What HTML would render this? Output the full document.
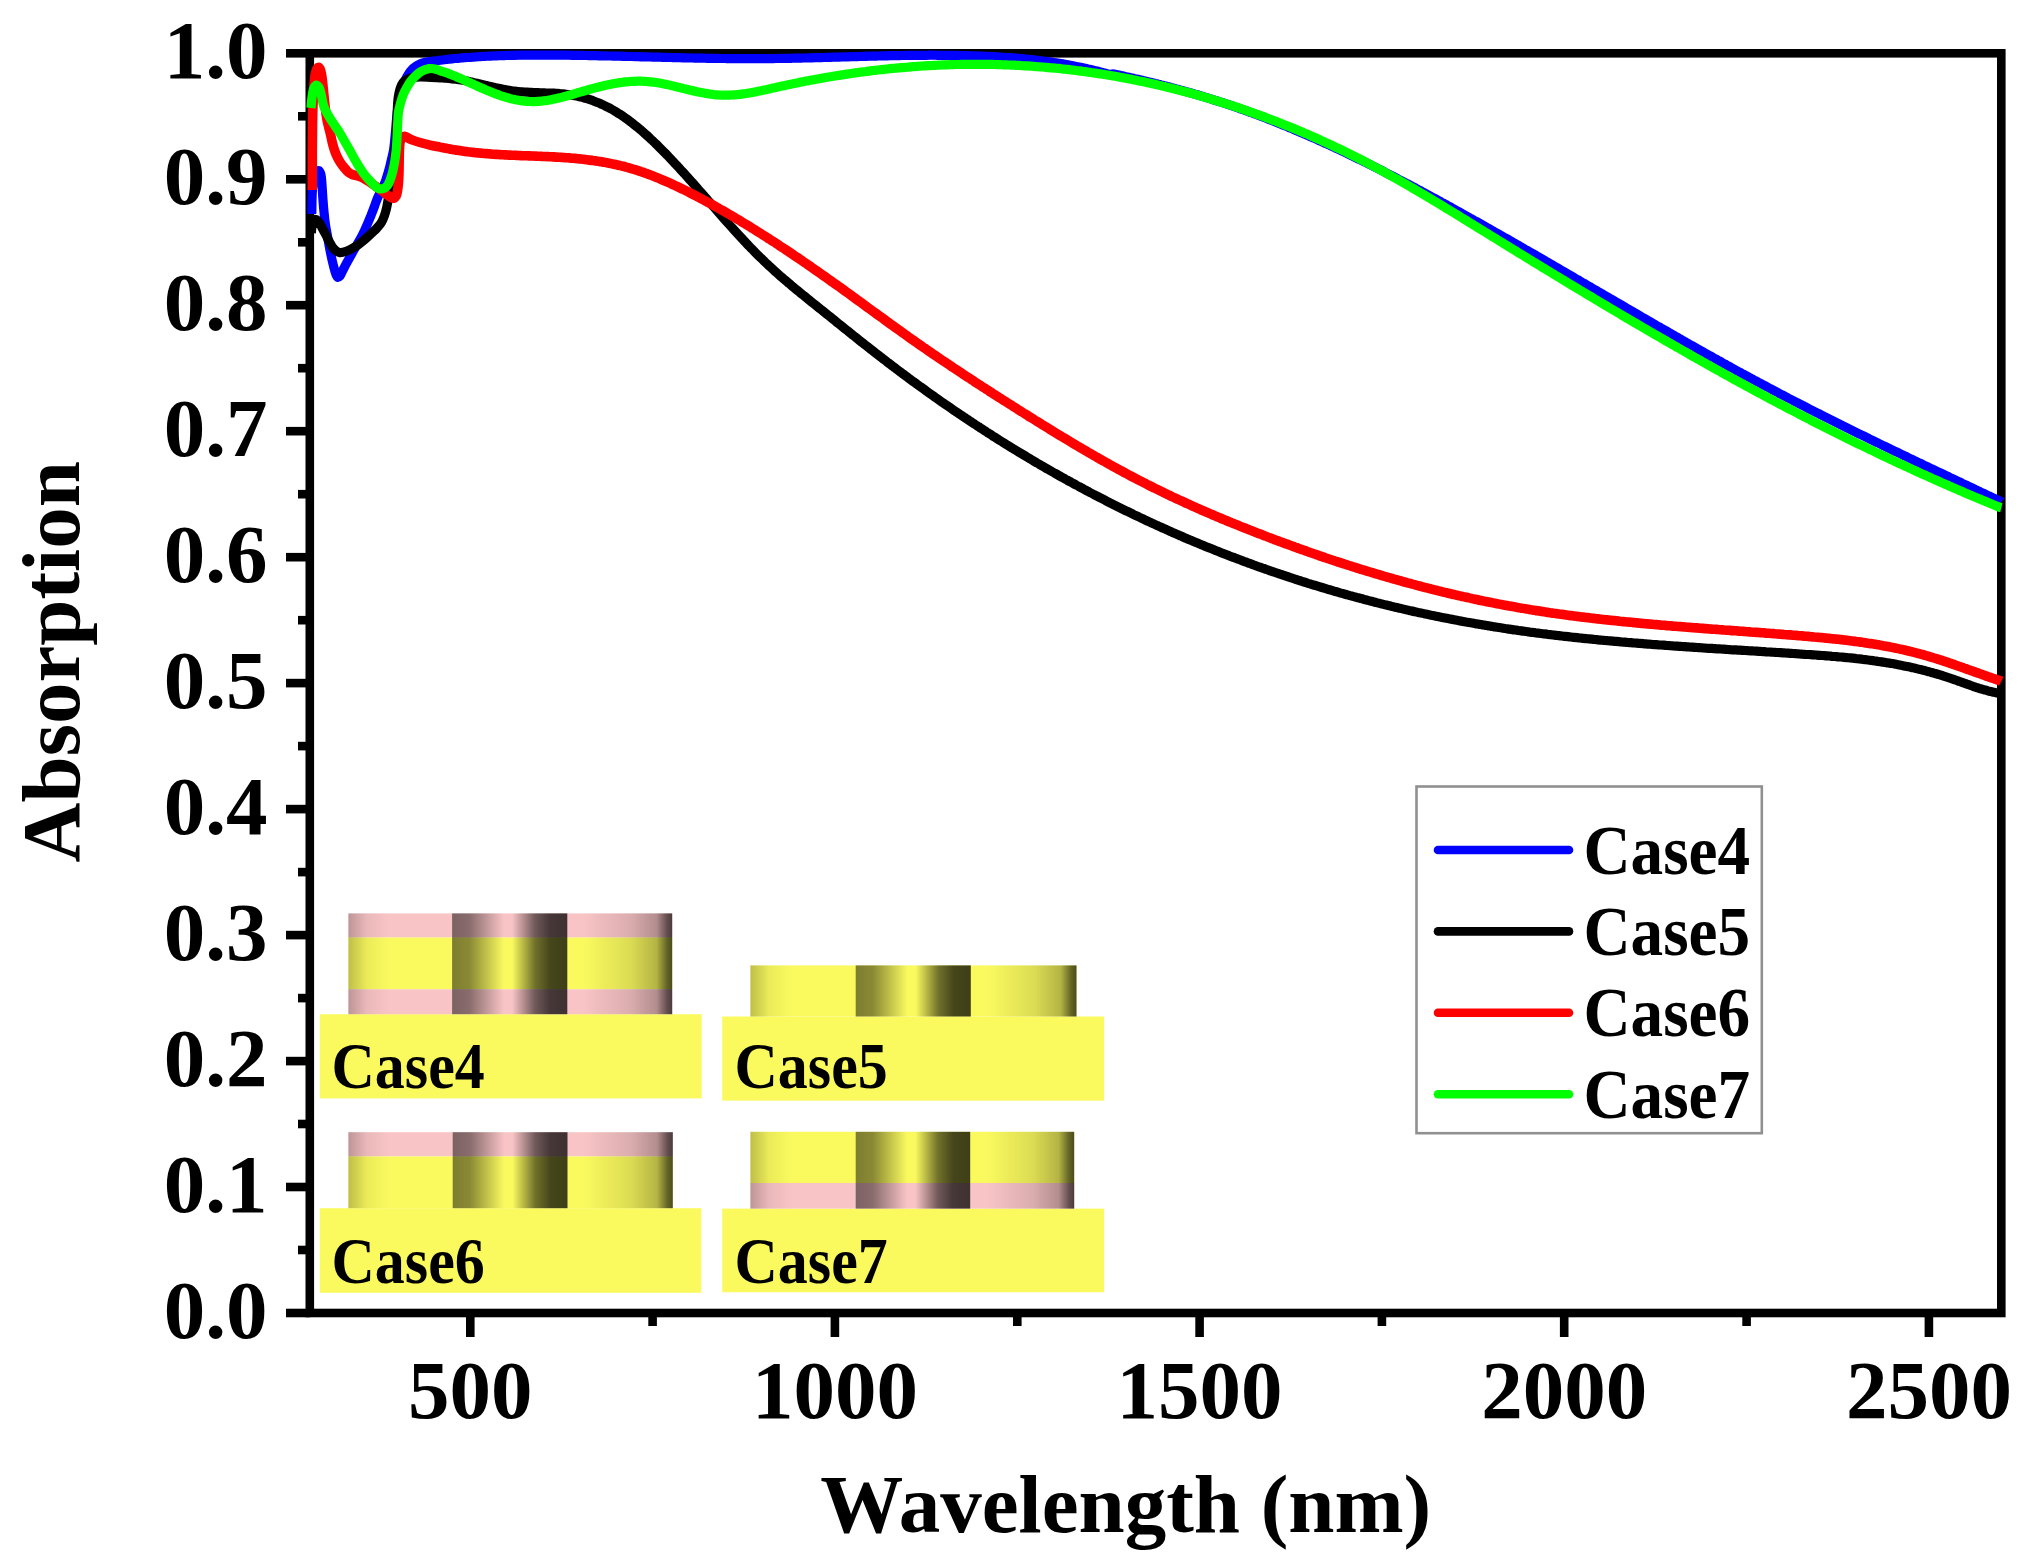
<!DOCTYPE html>
<html><head><meta charset="utf-8"><title>Absorption spectra</title>
<style>
html,body{margin:0;padding:0;background:#fff;}
body{width:2032px;height:1567px;overflow:hidden;}
svg{display:block;}
.t{font-family:"Liberation Serif","Times New Roman",serif;font-weight:bold;fill:#000;}
</style></head><body>
<svg width="2032" height="1567" viewBox="0 0 2032 1567">
<defs>
<linearGradient id="gl" x1="0" x2="1" y1="0" y2="0">
 <stop offset="0" stop-color="#000" stop-opacity="0.24"/>
 <stop offset="0.18" stop-color="#000" stop-opacity="0.06"/>
 <stop offset="0.4" stop-color="#000" stop-opacity="0"/>
 <stop offset="1" stop-color="#000" stop-opacity="0"/>
</linearGradient>
<linearGradient id="gm" x1="0" x2="1" y1="0" y2="0">
 <stop offset="0" stop-color="#000" stop-opacity="0.5"/>
 <stop offset="0.15" stop-color="#000" stop-opacity="0.45"/>
 <stop offset="0.45" stop-color="#000" stop-opacity="0"/>
 <stop offset="0.52" stop-color="#000" stop-opacity="0"/>
 <stop offset="0.72" stop-color="#000" stop-opacity="0.55"/>
 <stop offset="0.85" stop-color="#000" stop-opacity="0.72"/>
 <stop offset="1" stop-color="#000" stop-opacity="0.75"/>
</linearGradient>
<linearGradient id="gr" x1="0" x2="1" y1="0" y2="0">
 <stop offset="0" stop-color="#000" stop-opacity="0"/>
 <stop offset="0.15" stop-color="#000" stop-opacity="0"/>
 <stop offset="0.6" stop-color="#000" stop-opacity="0.12"/>
 <stop offset="0.85" stop-color="#000" stop-opacity="0.28"/>
 <stop offset="0.95" stop-color="#000" stop-opacity="0.6"/>
 <stop offset="1" stop-color="#000" stop-opacity="0.7"/>
</linearGradient>
</defs>
<rect width="2032" height="1567" fill="#fff"/>
<rect x="319.8" y="1014.2" width="381.9" height="84.2" fill="#FAFA5F"/>
<rect x="348.4" y="913.4" width="323.8" height="24.1" fill="#F9C4C6"/>
<rect x="348.4" y="937.5" width="323.8" height="51.8" fill="#FAFA5F"/>
<rect x="348.4" y="989.3" width="323.8" height="24.9" fill="#F9C4C6"/>
<rect x="348.4" y="913.4" width="103.7" height="100.8" fill="url(#gl)"/>
<rect x="452.1" y="913.4" width="115.2" height="100.8" fill="url(#gm)"/>
<rect x="567.3" y="913.4" width="104.9" height="100.8" fill="url(#gr)"/>
<text x="0" y="0" transform="translate(331.5,1088) scale(0.93,1)" font-size="64.5" class="t">Case4</text>
<rect x="722.2" y="1016.5" width="381.9" height="84.1" fill="#FAFA5F"/>
<rect x="750.4" y="965.4" width="326.1" height="51.1" fill="#FAFA5F"/>
<rect x="750.4" y="965.4" width="105.3" height="51.1" fill="url(#gl)"/>
<rect x="855.7" y="965.4" width="115.1" height="51.1" fill="url(#gm)"/>
<rect x="970.8" y="965.4" width="105.7" height="51.1" fill="url(#gr)"/>
<text x="0" y="0" transform="translate(734.5,1088) scale(0.93,1)" font-size="64.5" class="t">Case5</text>
<rect x="319.8" y="1208.2" width="381.5" height="84.6" fill="#FAFA5F"/>
<rect x="348.4" y="1132.2" width="324.4" height="24.2" fill="#F9C4C6"/>
<rect x="348.4" y="1156.4" width="324.4" height="51.8" fill="#FAFA5F"/>
<rect x="348.4" y="1132.2" width="104.3" height="76.0" fill="url(#gl)"/>
<rect x="452.7" y="1132.2" width="114.8" height="76.0" fill="url(#gm)"/>
<rect x="567.5" y="1132.2" width="105.3" height="76.0" fill="url(#gr)"/>
<text x="0" y="0" transform="translate(331.5,1282.5) scale(0.93,1)" font-size="64.5" class="t">Case6</text>
<rect x="722.2" y="1208.6" width="381.9" height="83.6" fill="#FAFA5F"/>
<rect x="750.4" y="1131.8" width="323.8" height="51.2" fill="#FAFA5F"/>
<rect x="750.4" y="1183" width="323.8" height="25.6" fill="#F9C4C6"/>
<rect x="750.4" y="1131.8" width="105.3" height="76.8" fill="url(#gl)"/>
<rect x="855.7" y="1131.8" width="114.5" height="76.8" fill="url(#gm)"/>
<rect x="970.2" y="1131.8" width="104.0" height="76.8" fill="url(#gr)"/>
<text x="0" y="0" transform="translate(734.5,1282.5) scale(0.93,1)" font-size="64.5" class="t">Case7</text>
<rect x="309.8" y="53.3" width="1691.5" height="1259.7" fill="none" stroke="#000" stroke-width="8.6" stroke-linejoin="miter"/>
<line x1="286" y1="1313.0" x2="309.8" y2="1313.0" stroke="#000" stroke-width="8.6"/>
<line x1="298" y1="1250.0" x2="309.8" y2="1250.0" stroke="#000" stroke-width="8.6"/>
<text x="267.6" y="1337.5" text-anchor="end" font-size="83" class="t">0.0</text>
<line x1="286" y1="1187.0" x2="309.8" y2="1187.0" stroke="#000" stroke-width="8.6"/>
<line x1="298" y1="1124.0" x2="309.8" y2="1124.0" stroke="#000" stroke-width="8.6"/>
<text x="267.6" y="1211.5" text-anchor="end" font-size="83" class="t">0.1</text>
<line x1="286" y1="1061.1" x2="309.8" y2="1061.1" stroke="#000" stroke-width="8.6"/>
<line x1="298" y1="998.1" x2="309.8" y2="998.1" stroke="#000" stroke-width="8.6"/>
<text x="267.6" y="1085.6" text-anchor="end" font-size="83" class="t">0.2</text>
<line x1="286" y1="935.1" x2="309.8" y2="935.1" stroke="#000" stroke-width="8.6"/>
<line x1="298" y1="872.1" x2="309.8" y2="872.1" stroke="#000" stroke-width="8.6"/>
<text x="267.6" y="959.6" text-anchor="end" font-size="83" class="t">0.3</text>
<line x1="286" y1="809.1" x2="309.8" y2="809.1" stroke="#000" stroke-width="8.6"/>
<line x1="298" y1="746.1" x2="309.8" y2="746.1" stroke="#000" stroke-width="8.6"/>
<text x="267.6" y="833.6" text-anchor="end" font-size="83" class="t">0.4</text>
<line x1="286" y1="683.1" x2="309.8" y2="683.1" stroke="#000" stroke-width="8.6"/>
<line x1="298" y1="620.2" x2="309.8" y2="620.2" stroke="#000" stroke-width="8.6"/>
<text x="267.6" y="707.6" text-anchor="end" font-size="83" class="t">0.5</text>
<line x1="286" y1="557.2" x2="309.8" y2="557.2" stroke="#000" stroke-width="8.6"/>
<line x1="298" y1="494.2" x2="309.8" y2="494.2" stroke="#000" stroke-width="8.6"/>
<text x="267.6" y="581.7" text-anchor="end" font-size="83" class="t">0.6</text>
<line x1="286" y1="431.2" x2="309.8" y2="431.2" stroke="#000" stroke-width="8.6"/>
<line x1="298" y1="368.2" x2="309.8" y2="368.2" stroke="#000" stroke-width="8.6"/>
<text x="267.6" y="455.7" text-anchor="end" font-size="83" class="t">0.7</text>
<line x1="286" y1="305.2" x2="309.8" y2="305.2" stroke="#000" stroke-width="8.6"/>
<line x1="298" y1="242.3" x2="309.8" y2="242.3" stroke="#000" stroke-width="8.6"/>
<text x="267.6" y="329.7" text-anchor="end" font-size="83" class="t">0.8</text>
<line x1="286" y1="179.3" x2="309.8" y2="179.3" stroke="#000" stroke-width="8.6"/>
<line x1="298" y1="116.3" x2="309.8" y2="116.3" stroke="#000" stroke-width="8.6"/>
<text x="267.6" y="203.8" text-anchor="end" font-size="83" class="t">0.9</text>
<line x1="286" y1="53.3" x2="309.8" y2="53.3" stroke="#000" stroke-width="8.6"/>
<text x="267.6" y="77.8" text-anchor="end" font-size="83" class="t">1.0</text>
<line x1="470.3" y1="1313.0" x2="470.3" y2="1337" stroke="#000" stroke-width="8.6"/>
<text x="470.3" y="1418.2" text-anchor="middle" font-size="83" class="t">500</text>
<line x1="834.9" y1="1313.0" x2="834.9" y2="1337" stroke="#000" stroke-width="8.6"/>
<text x="834.9" y="1418.2" text-anchor="middle" font-size="83" class="t">1000</text>
<line x1="1199.6" y1="1313.0" x2="1199.6" y2="1337" stroke="#000" stroke-width="8.6"/>
<text x="1199.6" y="1418.2" text-anchor="middle" font-size="83" class="t">1500</text>
<line x1="1564.2" y1="1313.0" x2="1564.2" y2="1337" stroke="#000" stroke-width="8.6"/>
<text x="1564.2" y="1418.2" text-anchor="middle" font-size="83" class="t">2000</text>
<line x1="1928.9" y1="1313.0" x2="1928.9" y2="1337" stroke="#000" stroke-width="8.6"/>
<text x="1928.9" y="1418.2" text-anchor="middle" font-size="83" class="t">2500</text>
<line x1="652.6" y1="1313.0" x2="652.6" y2="1326" stroke="#000" stroke-width="8.6"/>
<line x1="1017.3" y1="1313.0" x2="1017.3" y2="1326" stroke="#000" stroke-width="8.6"/>
<line x1="1381.9" y1="1313.0" x2="1381.9" y2="1326" stroke="#000" stroke-width="8.6"/>
<line x1="1746.6" y1="1313.0" x2="1746.6" y2="1326" stroke="#000" stroke-width="8.6"/>
<path d="M311.8,214.0 C311.9,209.3 311.9,204.5 312.0,200.0 C312.1,195.8 312.2,191.9 312.6,188.0 C313.0,184.2 313.4,180.0 314.2,177.0 C314.8,174.8 315.5,172.5 316.5,171.5 C317.2,170.9 318.1,170.4 318.8,170.6 C319.6,170.9 320.3,172.5 320.8,174.0 C321.6,176.6 321.7,181.0 322.0,185.0 C322.4,189.6 322.6,195.3 323.0,200.0 C323.3,204.2 323.6,207.9 324.0,212.0 C324.4,216.2 324.9,220.9 325.5,225.0 C326.0,228.7 326.8,232.1 327.4,235.6 C328.0,239.1 328.6,242.6 329.2,246.0 C329.8,249.4 330.5,252.7 331.2,256.1 C332.0,259.7 332.9,263.7 333.8,267.0 C334.5,269.7 335.1,272.6 336.0,274.5 C336.6,275.8 337.2,277.4 337.9,277.5 C338.5,277.6 339.3,276.8 340.0,276.0 C341.1,274.7 341.9,272.1 343.0,270.0 C344.3,267.5 345.8,264.7 347.2,262.0 C348.7,259.3 350.2,256.7 351.7,254.0 C353.3,251.1 355.1,248.0 356.8,245.0 C358.6,241.9 360.4,238.9 362.1,235.6 C363.8,232.2 365.5,228.5 367.0,225.0 C368.5,221.7 369.8,218.4 371.1,215.2 C372.3,212.1 373.4,209.1 374.6,206.0 C375.7,203.0 376.7,199.9 378.0,197.0 C379.2,194.2 380.7,191.7 382.0,189.0 C383.2,186.4 384.5,183.8 385.5,181.1 C386.5,178.4 387.2,175.6 388.0,173.0 C388.7,170.5 389.4,168.3 390.0,165.8 C390.6,163.3 391.2,160.6 391.8,158.0 C392.4,155.5 393.0,153.4 393.5,150.4 C394.2,146.2 394.7,140.5 395.2,135.0 C395.8,128.8 396.2,121.4 397.0,115.0 C397.7,109.1 398.4,103.1 399.5,98.0 C400.5,93.6 401.7,89.7 403.0,86.0 C404.2,82.6 405.3,79.4 407.0,76.5 C408.7,73.6 410.7,70.6 413.0,68.5 C415.1,66.6 417.5,65.1 420.0,64.0 C422.5,62.9 425.3,62.4 428.0,61.8 C430.7,61.3 433.3,61.1 436.2,60.7 C439.4,60.3 444.1,59.8 446.4,59.5 C447.6,59.4 448.1,59.2 449.0,59.1 C450.0,59.0 451.0,58.9 452.0,58.8 C453.0,58.7 454.0,58.6 455.0,58.5 C456.0,58.4 457.0,58.3 458.0,58.3 C459.0,58.2 460.0,58.1 461.0,58.0 C462.0,57.9 463.0,57.8 464.0,57.7 C465.0,57.7 466.0,57.6 467.0,57.5 C468.0,57.4 469.0,57.3 470.0,57.3 C471.0,57.2 472.0,57.1 473.0,57.1 C474.0,57.0 475.0,56.9 476.0,56.9 C477.0,56.8 478.0,56.7 479.0,56.7 C480.0,56.6 481.0,56.6 482.0,56.5 C483.0,56.5 484.0,56.4 485.0,56.3 C486.0,56.3 487.0,56.2 488.0,56.2 C489.0,56.1 490.0,56.1 491.0,56.1 C492.0,56.0 493.0,56.0 494.0,55.9 C495.0,55.9 496.0,55.8 497.0,55.8 C498.0,55.8 499.0,55.7 500.0,55.7 C501.0,55.7 502.0,55.6 503.0,55.6 C504.0,55.6 505.0,55.5 506.0,55.5 C507.0,55.5 508.0,55.5 509.0,55.4 C510.0,55.4 511.0,55.4 512.0,55.4 C513.0,55.3 514.0,55.3 515.0,55.3 C516.0,55.3 517.0,55.3 518.0,55.2 C519.0,55.2 520.0,55.2 521.0,55.2 C522.0,55.2 523.0,55.2 524.0,55.2 C525.0,55.1 526.0,55.1 527.0,55.1 C528.0,55.1 529.0,55.1 530.0,55.1 C531.0,55.1 532.0,55.1 533.0,55.1 C534.0,55.1 535.0,55.1 536.0,55.1 C537.0,55.1 538.0,55.1 539.0,55.1 C540.0,55.1 541.0,55.1 542.0,55.1 C543.0,55.1 544.0,55.1 545.0,55.1 C546.0,55.1 547.0,55.1 548.0,55.1 C549.0,55.1 550.0,55.1 551.0,55.1 C552.0,55.1 553.0,55.1 554.0,55.1 C555.0,55.1 556.0,55.1 557.0,55.1 C558.0,55.1 559.0,55.1 560.0,55.1 C561.0,55.2 562.0,55.2 563.0,55.2 C564.0,55.2 565.0,55.2 566.0,55.2 C567.0,55.2 568.0,55.2 569.0,55.2 C570.0,55.3 571.0,55.3 572.0,55.3 C573.0,55.3 574.0,55.3 575.0,55.3 C576.0,55.3 577.0,55.4 578.0,55.4 C579.0,55.4 580.0,55.4 581.0,55.4 C582.0,55.4 583.0,55.5 584.0,55.5 C585.0,55.5 586.0,55.5 587.0,55.5 C588.0,55.5 589.0,55.6 590.0,55.6 C591.0,55.6 592.0,55.6 593.0,55.6 C594.0,55.7 595.0,55.7 596.0,55.7 C597.0,55.7 598.0,55.7 599.0,55.8 C600.0,55.8 601.0,55.8 602.0,55.8 C603.0,55.8 604.0,55.9 605.0,55.9 C606.0,55.9 607.0,55.9 608.0,56.0 C609.0,56.0 610.0,56.0 611.0,56.0 C612.0,56.0 613.0,56.1 614.0,56.1 C615.0,56.1 616.0,56.1 617.0,56.2 C618.0,56.2 619.0,56.2 620.0,56.2 C621.0,56.3 622.0,56.3 623.0,56.3 C624.0,56.3 625.0,56.4 626.0,56.4 C627.0,56.4 628.0,56.4 629.0,56.5 C630.0,56.5 631.0,56.5 632.0,56.5 C633.0,56.6 634.0,56.6 635.0,56.6 C636.0,56.6 637.0,56.7 638.0,56.7 C639.0,56.7 640.0,56.7 641.0,56.8 C642.0,56.8 643.0,56.8 644.0,56.8 C645.0,56.9 646.0,56.9 647.0,56.9 C648.0,56.9 649.0,57.0 650.0,57.0 C651.0,57.0 652.0,57.0 653.0,57.1 C654.0,57.1 655.0,57.1 656.0,57.1 C657.0,57.2 658.0,57.2 659.0,57.2 C660.0,57.2 661.0,57.3 662.0,57.3 C663.0,57.3 664.0,57.3 665.0,57.4 C666.0,57.4 667.0,57.4 668.0,57.4 C669.0,57.5 670.0,57.5 671.0,57.5 C672.0,57.5 673.0,57.6 674.0,57.6 C675.0,57.6 676.0,57.6 677.0,57.7 C678.0,57.7 679.0,57.7 680.0,57.7 C681.0,57.8 682.0,57.8 683.0,57.8 C684.0,57.8 685.0,57.8 686.0,57.9 C687.0,57.9 688.0,57.9 689.0,57.9 C690.0,58.0 691.0,58.0 692.0,58.0 C693.0,58.0 694.0,58.0 695.0,58.1 C696.0,58.1 697.0,58.1 698.0,58.1 C699.0,58.1 700.0,58.2 701.0,58.2 C702.0,58.2 703.0,58.2 704.0,58.2 C705.0,58.2 706.0,58.3 707.0,58.3 C708.0,58.3 709.0,58.3 710.0,58.3 C711.0,58.3 712.0,58.4 713.0,58.4 C714.0,58.4 715.0,58.4 716.0,58.4 C717.0,58.4 718.0,58.4 719.0,58.5 C720.0,58.5 721.0,58.5 722.0,58.5 C723.0,58.5 724.0,58.5 725.0,58.5 C726.0,58.5 727.0,58.6 728.0,58.6 C729.0,58.6 730.0,58.6 731.0,58.6 C732.0,58.6 733.0,58.6 734.0,58.6 C735.0,58.6 736.0,58.6 737.0,58.6 C738.0,58.6 739.0,58.6 740.0,58.7 C741.0,58.7 742.0,58.7 743.0,58.7 C744.0,58.7 745.0,58.7 746.0,58.7 C747.0,58.7 748.0,58.7 749.0,58.7 C750.0,58.7 751.0,58.7 752.0,58.7 C753.0,58.7 754.0,58.7 755.0,58.7 C756.0,58.7 757.0,58.7 758.0,58.7 C759.0,58.7 760.0,58.7 761.0,58.7 C762.0,58.6 763.0,58.6 764.0,58.6 C765.0,58.6 766.0,58.6 767.0,58.6 C768.0,58.6 769.0,58.6 770.0,58.6 C771.0,58.6 772.0,58.6 773.0,58.6 C774.0,58.5 775.0,58.5 776.0,58.5 C777.0,58.5 778.0,58.5 779.0,58.5 C780.0,58.5 781.0,58.4 782.0,58.4 C783.0,58.4 784.0,58.4 785.0,58.4 C786.0,58.4 787.0,58.3 788.0,58.3 C789.0,58.3 790.0,58.3 791.0,58.3 C792.0,58.3 793.0,58.2 794.0,58.2 C795.0,58.2 796.0,58.2 797.0,58.2 C798.0,58.1 799.0,58.1 800.0,58.1 C801.0,58.1 802.0,58.0 803.0,58.0 C804.0,58.0 805.0,58.0 806.0,58.0 C807.0,57.9 808.0,57.9 809.0,57.9 C810.0,57.9 811.0,57.8 812.0,57.8 C813.0,57.8 814.0,57.8 815.0,57.7 C816.0,57.7 817.0,57.7 818.0,57.7 C819.0,57.6 820.0,57.6 821.0,57.6 C822.0,57.5 823.0,57.5 824.0,57.5 C825.0,57.5 826.0,57.4 827.0,57.4 C828.0,57.4 829.0,57.4 830.0,57.3 C831.0,57.3 832.0,57.3 833.0,57.2 C834.0,57.2 835.0,57.2 836.0,57.2 C837.0,57.1 838.0,57.1 839.0,57.1 C840.0,57.0 841.0,57.0 842.0,57.0 C843.0,57.0 844.0,56.9 845.0,56.9 C846.0,56.9 847.0,56.8 848.0,56.8 C849.0,56.8 850.0,56.8 851.0,56.7 C852.0,56.7 853.0,56.7 854.0,56.6 C855.0,56.6 856.0,56.6 857.0,56.6 C858.0,56.5 859.0,56.5 860.0,56.5 C861.0,56.5 862.0,56.4 863.0,56.4 C864.0,56.4 865.0,56.3 866.0,56.3 C867.0,56.3 868.0,56.3 869.0,56.2 C870.0,56.2 871.0,56.2 872.0,56.2 C873.0,56.1 874.0,56.1 875.0,56.1 C876.0,56.1 877.0,56.0 878.0,56.0 C879.0,56.0 880.0,56.0 881.0,55.9 C882.0,55.9 883.0,55.9 884.0,55.9 C885.0,55.8 886.0,55.8 887.0,55.8 C888.0,55.8 889.0,55.8 890.0,55.7 C891.0,55.7 892.0,55.7 893.0,55.7 C894.0,55.7 895.0,55.6 896.0,55.6 C897.0,55.6 898.0,55.6 899.0,55.6 C900.0,55.5 901.0,55.5 902.0,55.5 C903.0,55.5 904.0,55.5 905.0,55.5 C906.0,55.5 907.0,55.4 908.0,55.4 C909.0,55.4 910.0,55.4 911.0,55.4 C912.0,55.4 913.0,55.4 914.0,55.4 C915.0,55.3 916.0,55.3 917.0,55.3 C918.0,55.3 919.0,55.3 920.0,55.3 C921.0,55.3 922.0,55.3 923.0,55.3 C924.0,55.3 925.0,55.3 926.0,55.3 C927.0,55.3 928.0,55.3 929.0,55.2 C930.0,55.2 931.0,55.2 932.0,55.2 C933.0,55.2 934.0,55.2 935.0,55.2 C936.0,55.2 937.0,55.2 938.0,55.3 C939.0,55.3 940.0,55.3 941.0,55.3 C942.0,55.3 943.0,55.3 944.0,55.3 C945.0,55.3 946.0,55.3 947.0,55.3 C948.0,55.3 949.0,55.3 950.0,55.3 C951.0,55.4 952.0,55.4 953.0,55.4 C954.0,55.4 955.0,55.4 956.0,55.4 C957.0,55.4 958.0,55.5 959.0,55.5 C960.0,55.5 961.0,55.5 962.0,55.5 C963.0,55.6 964.0,55.6 965.0,55.6 C966.0,55.6 967.0,55.7 968.0,55.7 C969.0,55.7 970.0,55.7 971.0,55.8 C972.0,55.8 973.0,55.8 974.0,55.9 C975.0,55.9 976.0,55.9 977.0,55.9 C978.0,56.0 979.0,56.0 980.0,56.1 C981.0,56.1 982.0,56.1 983.0,56.2 C984.0,56.2 985.0,56.3 986.0,56.3 C987.0,56.3 988.0,56.4 989.0,56.4 C990.0,56.5 991.0,56.5 992.0,56.6 C993.0,56.6 994.0,56.7 995.0,56.7 C996.0,56.8 997.0,56.9 998.0,56.9 C999.0,57.0 1000.0,57.0 1001.0,57.1 C1002.0,57.2 1003.0,57.2 1004.0,57.3 C1005.0,57.3 1006.0,57.4 1007.0,57.5 C1008.0,57.6 1009.0,57.6 1010.0,57.7 C1011.0,57.8 1012.0,57.9 1013.0,57.9 C1014.0,58.0 1015.0,58.1 1016.0,58.2 C1017.0,58.3 1018.0,58.3 1019.0,58.4 C1020.0,58.5 1021.0,58.6 1022.0,58.7 C1023.0,58.8 1024.0,58.9 1025.0,59.0 C1026.0,59.1 1027.0,59.2 1028.0,59.3 C1029.0,59.4 1030.0,59.5 1031.0,59.6 C1032.0,59.7 1033.0,59.8 1034.0,59.9 C1035.0,60.0 1036.0,60.2 1037.0,60.3 C1038.0,60.4 1039.0,60.5 1040.0,60.6 C1041.0,60.8 1042.0,60.9 1043.0,61.0 C1044.0,61.1 1045.0,61.3 1046.0,61.4 C1047.0,61.5 1048.0,61.7 1049.0,61.8 C1050.0,62.0 1051.0,62.1 1052.0,62.2 C1053.0,62.4 1054.0,62.5 1055.0,62.7 C1056.0,62.8 1057.0,63.0 1058.0,63.2 C1059.0,63.3 1060.0,63.5 1061.0,63.6 C1062.0,63.8 1063.0,64.0 1064.0,64.1 C1065.0,64.3 1066.0,64.5 1067.0,64.7 C1068.0,64.8 1069.0,65.0 1070.0,65.2 C1071.0,65.4 1072.0,65.6 1073.0,65.8 C1074.0,66.0 1075.0,66.2 1076.0,66.4 C1077.0,66.6 1078.0,66.8 1079.0,67.0 C1080.0,67.2 1081.0,67.4 1082.0,67.6 C1083.0,67.8 1084.0,68.0 1085.0,68.2 C1086.0,68.5 1087.0,68.7 1088.0,68.9 C1089.0,69.1 1090.0,69.4 1091.0,69.6 C1092.0,69.8 1093.0,70.1 1094.0,70.3 C1095.0,70.6 1096.0,70.8 1097.0,71.0 C1098.0,71.3 1099.0,71.6 1100.0,71.8 C1101.0,72.1 1102.0,72.3 1103.0,72.6 C1104.0,72.9 1105.0,73.1 1106.0,73.4 C1107.0,73.7 1108.3,74.0 1109.0,74.2 C1109.4,74.4 1109.6,74.5 1110.0,74.5 C1110.7,74.5 1112.0,73.9 1113.0,73.9 C1114.0,73.9 1115.0,74.3 1116.0,74.5 C1117.0,74.7 1118.0,74.9 1119.0,75.1 C1120.0,75.3 1121.0,75.5 1122.0,75.7 C1123.0,76.0 1124.0,76.2 1125.0,76.4 C1126.0,76.6 1127.0,76.8 1128.0,77.1 C1129.0,77.3 1130.0,77.5 1131.0,77.7 C1132.0,77.9 1133.0,78.2 1134.0,78.4 C1135.0,78.6 1136.0,78.8 1137.0,79.1 C1138.0,79.3 1139.0,79.5 1140.0,79.8 C1141.0,80.0 1142.0,80.2 1143.0,80.5 C1144.0,80.7 1145.0,80.9 1146.0,81.2 C1147.0,81.4 1148.0,81.6 1149.0,81.9 C1150.0,82.1 1151.0,82.4 1152.0,82.6 C1153.0,82.9 1154.0,83.1 1155.0,83.4 C1156.0,83.6 1157.0,83.9 1158.0,84.1 C1159.0,84.4 1160.0,84.6 1161.0,84.9 C1162.0,85.1 1163.0,85.4 1164.0,85.6 C1165.0,85.9 1166.0,86.1 1167.0,86.4 C1168.0,86.7 1169.0,86.9 1170.0,87.2 C1171.0,87.5 1172.0,87.7 1173.0,88.0 C1174.0,88.3 1175.0,88.5 1176.0,88.8 C1177.0,89.1 1178.0,89.3 1179.0,89.6 C1180.0,89.9 1181.0,90.2 1182.0,90.4 C1183.0,90.7 1184.0,91.0 1185.0,91.3 C1186.0,91.6 1187.0,91.9 1188.0,92.1 C1189.0,92.4 1190.0,92.7 1191.0,93.0 C1192.0,93.3 1193.0,93.6 1194.0,93.9 C1195.0,94.2 1196.0,94.5 1197.0,94.8 C1198.0,95.0 1199.0,95.3 1200.0,95.6 C1201.0,95.9 1202.0,96.2 1203.0,96.5 C1204.0,96.9 1205.0,97.2 1206.0,97.5 C1207.0,97.8 1208.0,98.1 1209.0,98.4 C1210.0,98.7 1211.0,99.0 1212.0,99.3 C1213.0,99.6 1214.0,100.0 1215.0,100.3 C1216.0,100.6 1217.0,100.9 1218.0,101.2 C1219.0,101.6 1220.0,101.9 1221.0,102.2 C1222.0,102.5 1223.0,102.9 1224.0,103.2 C1225.0,103.5 1226.0,103.9 1227.0,104.2 C1228.0,104.5 1229.0,104.9 1230.0,105.2 C1231.0,105.5 1232.0,105.9 1233.0,106.2 C1234.0,106.6 1235.0,106.9 1236.0,107.2 C1237.0,107.6 1238.0,107.9 1239.0,108.3 C1240.0,108.6 1241.0,109.0 1242.0,109.3 C1243.0,109.7 1244.0,110.1 1245.0,110.4 C1246.0,110.8 1247.0,111.1 1248.0,111.5 C1249.0,111.9 1250.0,112.2 1251.0,112.6 C1252.0,113.0 1253.0,113.3 1254.0,113.7 C1255.0,114.1 1256.0,114.4 1257.0,114.8 C1258.0,115.2 1259.0,115.6 1260.0,115.9 C1261.0,116.3 1262.0,116.7 1263.0,117.1 C1264.0,117.5 1265.0,117.9 1266.0,118.2 C1267.0,118.6 1268.0,119.0 1269.0,119.4 C1270.0,119.8 1271.0,120.2 1272.0,120.6 C1273.0,121.0 1274.0,121.4 1275.0,121.8 C1276.0,122.2 1277.0,122.6 1278.0,123.0 C1279.0,123.4 1280.0,123.8 1281.0,124.2 C1282.0,124.6 1283.0,125.0 1284.0,125.4 C1285.0,125.8 1286.0,126.2 1287.0,126.6 C1288.0,127.0 1289.0,127.5 1290.0,127.9 C1291.0,128.3 1292.0,128.7 1293.0,129.1 C1294.0,129.6 1295.0,130.0 1296.0,130.4 C1297.0,130.8 1298.0,131.3 1299.0,131.7 C1300.0,132.1 1301.0,132.5 1302.0,133.0 C1303.0,133.4 1304.0,133.8 1305.0,134.3 C1306.0,134.7 1307.0,135.1 1308.0,135.6 C1309.0,136.0 1310.0,136.5 1311.0,136.9 C1312.0,137.3 1313.0,137.8 1314.0,138.2 C1315.0,138.7 1316.0,139.1 1317.0,139.6 C1318.0,140.0 1319.0,140.5 1320.0,140.9 C1321.0,141.4 1322.0,141.8 1323.0,142.3 C1324.0,142.7 1325.0,143.2 1326.0,143.6 C1327.0,144.1 1328.0,144.5 1329.0,145.0 C1330.0,145.5 1331.0,145.9 1332.0,146.4 C1333.0,146.9 1334.0,147.3 1335.0,147.8 C1336.0,148.3 1337.0,148.7 1338.0,149.2 C1339.0,149.7 1340.0,150.1 1341.0,150.6 C1342.0,151.1 1343.0,151.5 1344.0,152.0 C1345.0,152.5 1346.0,153.0 1347.0,153.5 C1348.0,153.9 1349.0,154.4 1350.0,154.9 C1351.0,155.4 1352.0,155.9 1353.0,156.3 C1354.0,156.8 1355.0,157.3 1356.0,157.8 C1357.0,158.3 1358.0,158.8 1359.0,159.3 C1360.0,159.7 1361.0,160.2 1362.0,160.7 C1363.0,161.2 1364.0,161.7 1365.0,162.2 C1366.0,162.7 1367.0,163.2 1368.0,163.7 C1369.0,164.2 1370.0,164.7 1371.0,165.2 C1372.0,165.7 1373.0,166.2 1374.0,166.7 C1375.0,167.2 1376.0,167.7 1377.0,168.2 C1378.0,168.7 1379.0,169.2 1380.0,169.7 C1381.0,170.2 1382.0,170.7 1383.0,171.2 C1384.0,171.7 1385.0,172.3 1386.0,172.8 C1387.0,173.3 1388.0,173.8 1389.0,174.3 C1390.0,174.8 1391.0,175.3 1392.0,175.8 C1393.0,176.4 1394.0,176.9 1395.0,177.4 C1396.0,177.9 1397.0,178.4 1398.0,179.0 C1399.0,179.5 1400.0,180.0 1401.0,180.5 C1402.0,181.0 1403.0,181.6 1404.0,182.1 C1405.0,182.6 1406.0,183.1 1407.0,183.7 C1408.0,184.2 1409.0,184.7 1410.0,185.2 C1411.0,185.8 1412.0,186.3 1413.0,186.8 C1414.0,187.4 1415.0,187.9 1416.0,188.4 C1417.0,189.0 1418.0,189.5 1419.0,190.0 C1420.0,190.6 1421.0,191.1 1422.0,191.6 C1423.0,192.2 1424.0,192.7 1425.0,193.2 C1426.0,193.8 1427.0,194.3 1428.0,194.9 C1429.0,195.4 1430.0,195.9 1431.0,196.5 C1432.0,197.0 1433.0,197.6 1434.0,198.1 C1435.0,198.6 1436.0,199.2 1437.0,199.7 C1438.0,200.3 1439.0,200.8 1440.0,201.4 C1441.0,201.9 1442.0,202.5 1443.0,203.0 C1444.0,203.6 1445.0,204.1 1446.0,204.7 C1447.0,205.2 1448.0,205.8 1449.0,206.3 C1450.0,206.9 1451.0,207.4 1452.0,208.0 C1453.0,208.5 1454.0,209.1 1455.0,209.6 C1456.0,210.2 1457.0,210.7 1458.0,211.3 C1459.0,211.8 1460.0,212.4 1461.0,212.9 C1462.0,213.5 1463.0,214.1 1464.0,214.6 C1465.0,215.2 1466.0,215.7 1467.0,216.3 C1468.0,216.8 1469.0,217.4 1470.0,218.0 C1471.0,218.5 1472.0,219.1 1473.0,219.6 C1474.0,220.2 1475.0,220.8 1476.0,221.3 C1477.0,221.9 1478.0,222.4 1479.0,223.0 C1480.0,223.6 1481.0,224.1 1482.0,224.7 C1483.0,225.3 1484.0,225.8 1485.0,226.4 C1486.0,227.0 1487.0,227.5 1488.0,228.1 C1489.0,228.6 1490.0,229.2 1491.0,229.8 C1492.0,230.3 1493.0,230.9 1494.0,231.5 C1495.0,232.0 1496.0,232.6 1497.0,233.2 C1498.0,233.8 1499.0,234.3 1500.0,234.9 C1501.0,235.5 1502.0,236.0 1503.0,236.6 C1504.0,237.2 1505.0,237.7 1506.0,238.3 C1507.0,238.9 1508.0,239.4 1509.0,240.0 C1510.0,240.6 1511.0,241.2 1512.0,241.7 C1513.0,242.3 1514.0,242.9 1515.0,243.4 C1516.0,244.0 1517.0,244.6 1518.0,245.2 C1519.0,245.7 1520.0,246.3 1521.0,246.9 C1522.0,247.5 1523.0,248.0 1524.0,248.6 C1525.0,249.2 1526.0,249.8 1527.0,250.3 C1528.0,250.9 1529.0,251.5 1530.0,252.1 C1531.0,252.6 1532.0,253.2 1533.0,253.8 C1534.0,254.4 1535.0,254.9 1536.0,255.5 C1537.0,256.1 1538.0,256.7 1539.0,257.2 C1540.0,257.8 1541.0,258.4 1542.0,259.0 C1543.0,259.6 1544.0,260.1 1545.0,260.7 C1546.0,261.3 1547.0,261.9 1548.0,262.4 C1549.0,263.0 1550.0,263.6 1551.0,264.2 C1552.0,264.8 1553.0,265.3 1554.0,265.9 C1555.0,266.5 1556.0,267.1 1557.0,267.7 C1558.0,268.2 1559.0,268.8 1560.0,269.4 C1561.0,270.0 1562.0,270.6 1563.0,271.1 C1564.0,271.7 1565.0,272.3 1566.0,272.9 C1567.0,273.5 1568.0,274.0 1569.0,274.6 C1570.0,275.2 1571.0,275.8 1572.0,276.4 C1573.0,276.9 1574.0,277.5 1575.0,278.1 C1576.0,278.7 1577.0,279.3 1578.0,279.8 C1579.0,280.4 1580.0,281.0 1581.0,281.6 C1582.0,282.2 1583.0,282.8 1584.0,283.3 C1585.0,283.9 1586.0,284.5 1587.0,285.1 C1588.0,285.7 1589.0,286.2 1590.0,286.8 C1591.0,287.4 1592.0,288.0 1593.0,288.6 C1594.0,289.2 1595.0,289.7 1596.0,290.3 C1597.0,290.9 1598.0,291.5 1599.0,292.1 C1600.0,292.6 1601.0,293.2 1602.0,293.8 C1603.0,294.4 1604.0,295.0 1605.0,295.6 C1606.0,296.1 1607.0,296.7 1608.0,297.3 C1609.0,297.9 1610.0,298.5 1611.0,299.0 C1612.0,299.6 1613.0,300.2 1614.0,300.8 C1615.0,301.4 1616.0,302.0 1617.0,302.5 C1618.0,303.1 1619.0,303.7 1620.0,304.3 C1621.0,304.9 1622.0,305.4 1623.0,306.0 C1624.0,306.6 1625.0,307.2 1626.0,307.8 C1627.0,308.3 1628.0,308.9 1629.0,309.5 C1630.0,310.1 1631.0,310.7 1632.0,311.2 C1633.0,311.8 1634.0,312.4 1635.0,313.0 C1636.0,313.6 1637.0,314.1 1638.0,314.7 C1639.0,315.3 1640.0,315.9 1641.0,316.5 C1642.0,317.0 1643.0,317.6 1644.0,318.2 C1645.0,318.8 1646.0,319.3 1647.0,319.9 C1648.0,320.5 1649.0,321.1 1650.0,321.7 C1651.0,322.2 1652.0,322.8 1653.0,323.4 C1654.0,324.0 1655.0,324.5 1656.0,325.1 C1657.0,325.7 1658.0,326.3 1659.0,326.8 C1660.0,327.4 1661.0,328.0 1662.0,328.6 C1663.0,329.1 1664.0,329.7 1665.0,330.3 C1666.0,330.9 1667.0,331.4 1668.0,332.0 C1669.0,332.6 1670.0,333.2 1671.0,333.7 C1672.0,334.3 1673.0,334.9 1674.0,335.4 C1675.0,336.0 1676.0,336.6 1677.0,337.2 C1678.0,337.7 1679.0,338.3 1680.0,338.9 C1681.0,339.4 1682.0,340.0 1683.0,340.6 C1684.0,341.1 1685.0,341.7 1686.0,342.3 C1687.0,342.8 1688.0,343.4 1689.0,344.0 C1690.0,344.5 1691.0,345.1 1692.0,345.7 C1693.0,346.2 1694.0,346.8 1695.0,347.4 C1696.0,347.9 1697.0,348.5 1698.0,349.1 C1699.0,349.6 1700.0,350.2 1701.0,350.8 C1702.0,351.3 1703.0,351.9 1704.0,352.4 C1705.0,353.0 1706.0,353.6 1707.0,354.1 C1708.0,354.7 1709.0,355.2 1710.0,355.8 C1711.0,356.4 1712.0,356.9 1713.0,357.5 C1714.0,358.0 1715.0,358.6 1716.0,359.2 C1717.0,359.7 1718.0,360.3 1719.0,360.8 C1720.0,361.4 1721.0,361.9 1722.0,362.5 C1723.0,363.0 1724.0,363.6 1725.0,364.2 C1726.0,364.7 1727.0,365.3 1728.0,365.8 C1729.0,366.4 1730.0,366.9 1731.0,367.5 C1732.0,368.0 1733.0,368.6 1734.0,369.1 C1735.0,369.7 1736.0,370.2 1737.0,370.8 C1738.0,371.3 1739.0,371.8 1740.0,372.4 C1741.0,372.9 1742.0,373.5 1743.0,374.0 C1744.0,374.6 1745.0,375.1 1746.0,375.7 C1747.0,376.2 1748.0,376.7 1749.0,377.3 C1750.0,377.8 1751.0,378.4 1752.0,378.9 C1753.0,379.4 1754.0,380.0 1755.0,380.5 C1756.0,381.1 1757.0,381.6 1758.0,382.1 C1759.0,382.7 1760.0,383.2 1761.0,383.7 C1762.0,384.3 1763.0,384.8 1764.0,385.3 C1765.0,385.9 1766.0,386.4 1767.0,386.9 C1768.0,387.5 1769.0,388.0 1770.0,388.5 C1771.0,389.1 1772.0,389.6 1773.0,390.1 C1774.0,390.6 1775.0,391.2 1776.0,391.7 C1777.0,392.2 1778.0,392.7 1779.0,393.3 C1780.0,393.8 1781.0,394.3 1782.0,394.8 C1783.0,395.4 1784.0,395.9 1785.0,396.4 C1786.0,396.9 1787.0,397.4 1788.0,398.0 C1789.0,398.5 1790.0,399.0 1791.0,399.5 C1792.0,400.0 1793.0,400.6 1794.0,401.1 C1795.0,401.6 1796.0,402.1 1797.0,402.6 C1798.0,403.1 1799.0,403.7 1800.0,404.2 C1801.0,404.7 1802.0,405.2 1803.0,405.7 C1804.0,406.2 1805.0,406.7 1806.0,407.2 C1807.0,407.8 1808.0,408.3 1809.0,408.8 C1810.0,409.3 1811.0,409.8 1812.0,410.3 C1813.0,410.8 1814.0,411.3 1815.0,411.8 C1816.0,412.3 1817.0,412.8 1818.0,413.3 C1819.0,413.9 1820.0,414.4 1821.0,414.9 C1822.0,415.4 1823.0,415.9 1824.0,416.4 C1825.0,416.9 1826.0,417.4 1827.0,417.9 C1828.0,418.4 1829.0,418.9 1830.0,419.4 C1831.0,419.9 1832.0,420.4 1833.0,420.9 C1834.0,421.4 1835.0,421.9 1836.0,422.4 C1837.0,422.9 1838.0,423.4 1839.0,423.9 C1840.0,424.4 1841.0,424.9 1842.0,425.4 C1843.0,425.9 1844.0,426.4 1845.0,426.9 C1846.0,427.4 1847.0,427.9 1848.0,428.3 C1849.0,428.8 1850.0,429.3 1851.0,429.8 C1852.0,430.3 1853.0,430.8 1854.0,431.3 C1855.0,431.8 1856.0,432.3 1857.0,432.8 C1858.0,433.3 1859.0,433.8 1860.0,434.3 C1861.0,434.7 1862.0,435.2 1863.0,435.7 C1864.0,436.2 1865.0,436.7 1866.0,437.2 C1867.0,437.7 1868.0,438.2 1869.0,438.7 C1870.0,439.1 1871.0,439.6 1872.0,440.1 C1873.0,440.6 1874.0,441.1 1875.0,441.6 C1876.0,442.1 1877.0,442.6 1878.0,443.0 C1879.0,443.5 1880.0,444.0 1881.0,444.5 C1882.0,445.0 1883.0,445.5 1884.0,445.9 C1885.0,446.4 1886.0,446.9 1887.0,447.4 C1888.0,447.9 1889.0,448.4 1890.0,448.8 C1891.0,449.3 1892.0,449.8 1893.0,450.3 C1894.0,450.8 1895.0,451.3 1896.0,451.7 C1897.0,452.2 1898.0,452.7 1899.0,453.2 C1900.0,453.7 1901.0,454.1 1902.0,454.6 C1903.0,455.1 1904.0,455.6 1905.0,456.1 C1906.0,456.5 1907.0,457.0 1908.0,457.5 C1909.0,458.0 1910.0,458.5 1911.0,458.9 C1912.0,459.4 1913.0,459.9 1914.0,460.4 C1915.0,460.8 1916.0,461.3 1917.0,461.8 C1918.0,462.3 1919.0,462.8 1920.0,463.2 C1921.0,463.7 1922.0,464.2 1923.0,464.7 C1924.0,465.1 1925.0,465.6 1926.0,466.1 C1927.0,466.6 1928.0,467.0 1929.0,467.5 C1930.0,468.0 1931.0,468.5 1932.0,468.9 C1933.0,469.4 1934.0,469.9 1935.0,470.4 C1936.0,470.8 1937.0,471.3 1938.0,471.8 C1939.0,472.3 1940.0,472.7 1941.0,473.2 C1942.0,473.7 1943.0,474.2 1944.0,474.6 C1945.0,475.1 1946.0,475.6 1947.0,476.1 C1948.0,476.5 1949.0,477.0 1950.0,477.5 C1951.0,478.0 1952.0,478.4 1953.0,478.9 C1954.0,479.4 1955.0,479.9 1956.0,480.3 C1957.0,480.8 1958.0,481.3 1959.0,481.7 C1960.0,482.2 1961.0,482.7 1962.0,483.2 C1963.0,483.6 1964.0,484.1 1965.0,484.6 C1966.0,485.1 1967.0,485.5 1968.0,486.0 C1969.0,486.5 1970.0,486.9 1971.0,487.4 C1972.0,487.9 1973.0,488.4 1974.0,488.8 C1975.0,489.3 1976.0,489.8 1977.0,490.3 C1978.0,490.7 1979.0,491.2 1980.0,491.7 C1981.0,492.1 1982.0,492.6 1983.0,493.1 C1984.0,493.6 1985.0,494.0 1986.0,494.5 C1987.0,495.0 1988.0,495.5 1989.0,495.9 C1990.0,496.4 1991.0,496.9 1992.0,497.4 C1993.0,497.8 1994.0,498.3 1995.0,498.8 C1996.0,499.2 1997.0,499.7 1998.0,500.2 C1999.0,500.7 2000.5,501.4 2001.0,501.6 C2001.2,501.7 2001.2,501.7 2001.3,501.8" fill="none" stroke="#0000FF" stroke-width="9.2" stroke-linejoin="round" stroke-linecap="butt"/>
<path d="M311.3,233.0 C311.6,230.0 311.8,226.5 312.3,224.0 C312.7,222.2 312.9,220.1 313.8,219.5 C314.5,219.1 315.6,219.4 316.5,219.8 C317.6,220.3 318.6,221.7 319.5,223.0 C320.6,224.5 321.5,226.6 322.5,228.5 C323.6,230.6 324.8,232.8 326.0,235.0 C327.2,237.3 328.2,239.7 329.5,242.0 C330.7,244.2 331.8,246.7 333.5,248.5 C335.1,250.2 337.2,252.1 339.4,252.5 C341.7,253.0 344.4,251.9 347.0,251.0 C349.9,250.0 353.1,248.1 355.8,246.4 C358.4,244.8 360.6,243.0 363.0,241.0 C365.7,238.8 368.6,235.9 371.1,233.6 C373.2,231.6 375.2,229.9 377.0,228.0 C378.6,226.2 380.1,224.6 381.3,222.6 C382.6,220.5 383.6,218.0 384.5,215.5 C385.5,212.8 386.1,210.1 386.8,207.0 C387.6,203.4 388.2,199.2 388.9,195.0 C389.7,190.3 390.4,185.4 391.2,180.0 C392.1,173.8 393.4,166.7 394.2,160.0 C395.0,153.3 395.5,146.5 396.0,140.0 C396.4,133.8 396.7,127.6 396.9,122.0 C397.1,117.0 397.1,112.4 397.4,108.0 C397.6,104.1 397.8,100.4 398.3,97.0 C398.8,94.0 399.4,91.0 400.2,88.5 C400.9,86.4 401.6,84.3 402.8,82.8 C403.9,81.4 405.4,80.4 407.0,79.5 C408.7,78.6 410.9,78.0 413.0,77.6 C415.2,77.2 417.4,77.1 420.0,77.0 C423.3,76.9 427.5,77.2 431.0,77.3 C434.2,77.4 437.8,77.7 440.0,77.8 C441.3,77.9 442.0,77.9 443.0,78.0 C444.0,78.1 445.0,78.1 446.0,78.2 C447.0,78.3 448.0,78.4 449.0,78.5 C450.0,78.6 451.0,78.7 452.0,78.8 C453.0,78.9 454.0,79.0 455.0,79.1 C456.0,79.2 457.0,79.4 458.0,79.5 C459.0,79.7 460.0,79.8 461.0,80.0 C462.0,80.2 463.0,80.4 464.0,80.5 C465.0,80.7 466.0,80.9 467.0,81.1 C468.0,81.3 469.0,81.5 470.0,81.7 C471.0,81.9 472.0,82.2 473.0,82.4 C474.0,82.6 475.0,82.8 476.0,83.1 C477.0,83.3 478.0,83.5 479.0,83.8 C480.0,84.0 481.0,84.2 482.0,84.5 C483.0,84.7 484.0,84.9 485.0,85.2 C486.0,85.4 487.0,85.7 488.0,85.9 C489.0,86.1 490.0,86.4 491.0,86.6 C492.0,86.8 493.0,87.1 494.0,87.3 C495.0,87.5 496.0,87.8 497.0,88.0 C498.0,88.2 499.0,88.4 500.0,88.6 C501.0,88.8 502.0,89.0 503.0,89.2 C504.0,89.4 505.0,89.6 506.0,89.8 C507.0,90.0 508.0,90.1 509.0,90.3 C510.0,90.5 511.0,90.6 512.0,90.8 C513.0,90.9 514.0,91.0 515.0,91.2 C516.0,91.3 517.0,91.4 518.0,91.5 C519.0,91.6 520.0,91.7 521.0,91.8 C522.0,91.9 523.0,91.9 524.0,92.0 C525.0,92.1 526.0,92.1 527.0,92.2 C528.0,92.3 529.0,92.3 530.0,92.3 C531.0,92.4 532.0,92.4 533.0,92.5 C534.0,92.5 535.0,92.5 536.0,92.6 C537.0,92.6 538.0,92.6 539.0,92.7 C540.0,92.7 541.0,92.7 542.0,92.8 C543.0,92.8 544.0,92.8 545.0,92.9 C546.0,92.9 547.0,92.9 548.0,93.0 C549.0,93.0 550.0,93.0 551.0,93.1 C552.0,93.1 553.0,93.2 554.0,93.2 C555.0,93.3 556.0,93.4 557.0,93.4 C558.0,93.5 559.0,93.6 560.0,93.7 C561.0,93.7 562.0,93.8 563.0,93.9 C564.0,94.0 565.0,94.2 566.0,94.3 C567.0,94.4 568.0,94.5 569.0,94.7 C570.0,94.8 571.0,95.0 572.0,95.2 C573.0,95.3 574.0,95.5 575.0,95.7 C576.0,95.9 577.0,96.1 578.0,96.3 C579.0,96.6 580.0,96.8 581.0,97.1 C582.0,97.3 583.0,97.6 584.0,97.9 C585.0,98.1 586.0,98.4 587.0,98.7 C588.0,99.0 589.0,99.4 590.0,99.7 C591.0,100.0 592.0,100.4 593.0,100.7 C594.0,101.1 595.0,101.5 596.0,101.9 C597.0,102.3 598.0,102.7 599.0,103.1 C600.0,103.5 601.0,104.0 602.0,104.4 C603.0,104.9 604.0,105.3 605.0,105.8 C606.0,106.3 607.0,106.8 608.0,107.3 C609.0,107.9 610.0,108.4 611.0,108.9 C612.0,109.5 613.0,110.1 614.0,110.6 C615.0,111.2 616.0,111.8 617.0,112.4 C618.0,113.1 619.0,113.7 620.0,114.3 C621.0,115.0 622.0,115.7 623.0,116.3 C624.0,117.0 625.0,117.7 626.0,118.4 C627.0,119.2 628.0,119.9 629.0,120.6 C630.0,121.4 631.0,122.1 632.0,122.9 C633.0,123.7 634.0,124.5 635.0,125.3 C636.0,126.1 637.0,126.9 638.0,127.7 C639.0,128.6 640.0,129.4 641.0,130.2 C642.0,131.1 643.0,132.0 644.0,132.9 C645.0,133.7 646.0,134.6 647.0,135.5 C648.0,136.4 649.0,137.4 650.0,138.3 C651.0,139.2 652.0,140.1 653.0,141.1 C654.0,142.0 655.0,143.0 656.0,144.0 C657.0,144.9 658.0,145.9 659.0,146.9 C660.0,147.9 661.0,148.9 662.0,149.9 C663.0,150.9 664.0,151.9 665.0,152.9 C666.0,154.0 667.0,155.0 668.0,156.0 C669.0,157.1 670.0,158.1 671.0,159.2 C672.0,160.2 673.0,161.3 674.0,162.4 C675.0,163.4 676.0,164.5 677.0,165.6 C678.0,166.7 679.0,167.8 680.0,168.9 C681.0,169.9 682.0,171.0 683.0,172.1 C684.0,173.2 685.0,174.4 686.0,175.5 C687.0,176.6 688.0,177.7 689.0,178.8 C690.0,179.9 691.0,181.1 692.0,182.2 C693.0,183.3 694.0,184.4 695.0,185.6 C696.0,186.7 697.0,187.8 698.0,189.0 C699.0,190.1 700.0,191.3 701.0,192.4 C702.0,193.5 703.0,194.7 704.0,195.8 C705.0,197.0 706.0,198.1 707.0,199.2 C708.0,200.4 709.0,201.5 710.0,202.7 C711.0,203.8 712.0,205.0 713.0,206.1 C714.0,207.3 715.0,208.4 716.0,209.5 C717.0,210.7 718.0,211.8 719.0,213.0 C720.0,214.1 721.0,215.2 722.0,216.4 C723.0,217.5 724.0,218.6 725.0,219.8 C726.0,220.9 727.0,222.0 728.0,223.1 C729.0,224.3 730.0,225.4 731.0,226.5 C732.0,227.6 733.0,228.7 734.0,229.8 C735.0,230.9 736.0,232.0 737.0,233.1 C738.0,234.2 739.0,235.3 740.0,236.4 C741.0,237.5 742.0,238.6 743.0,239.6 C744.0,240.7 745.0,241.8 746.0,242.8 C747.0,243.9 748.0,245.0 749.0,246.0 C750.0,247.0 751.0,248.1 752.0,249.1 C753.0,250.1 754.0,251.2 755.0,252.2 C756.0,253.2 757.0,254.2 758.0,255.2 C759.0,256.2 760.0,257.2 761.0,258.1 C762.0,259.1 763.0,260.1 764.0,261.0 C765.0,262.0 766.0,263.0 767.0,263.9 C768.0,264.8 769.0,265.8 770.0,266.7 C771.0,267.6 772.0,268.5 773.0,269.4 C774.0,270.3 775.0,271.3 776.0,272.1 C777.0,273.0 778.0,273.9 779.0,274.8 C780.0,275.7 781.0,276.6 782.0,277.4 C783.0,278.3 784.0,279.2 785.0,280.0 C786.0,280.9 787.0,281.7 788.0,282.6 C789.0,283.4 790.0,284.3 791.0,285.1 C792.0,286.0 793.0,286.8 794.0,287.6 C795.0,288.5 796.0,289.3 797.0,290.1 C798.0,290.9 799.0,291.8 800.0,292.6 C801.0,293.4 802.0,294.2 803.0,295.0 C804.0,295.8 805.0,296.6 806.0,297.4 C807.0,298.3 808.0,299.1 809.0,299.9 C810.0,300.7 811.0,301.5 812.0,302.3 C813.0,303.1 814.0,303.9 815.0,304.7 C816.0,305.5 817.0,306.3 818.0,307.1 C819.0,307.9 820.0,308.7 821.0,309.5 C822.0,310.3 823.0,311.1 824.0,311.9 C825.0,312.7 826.0,313.5 827.0,314.3 C828.0,315.1 829.0,315.9 830.0,316.7 C831.0,317.5 832.0,318.3 833.0,319.1 C834.0,319.9 835.0,320.8 836.0,321.6 C837.0,322.4 838.0,323.2 839.0,324.0 C840.0,324.8 841.0,325.6 842.0,326.4 C843.0,327.2 844.0,328.0 845.0,328.8 C846.0,329.6 847.0,330.4 848.0,331.2 C849.0,332.0 850.0,332.8 851.0,333.6 C852.0,334.4 853.0,335.2 854.0,336.0 C855.0,336.8 856.0,337.6 857.0,338.4 C858.0,339.2 859.0,340.0 860.0,340.8 C861.0,341.6 862.0,342.4 863.0,343.1 C864.0,343.9 865.0,344.7 866.0,345.5 C867.0,346.3 868.0,347.1 869.0,347.9 C870.0,348.7 871.0,349.5 872.0,350.2 C873.0,351.0 874.0,351.8 875.0,352.6 C876.0,353.4 877.0,354.1 878.0,354.9 C879.0,355.7 880.0,356.5 881.0,357.2 C882.0,358.0 883.0,358.8 884.0,359.6 C885.0,360.3 886.0,361.1 887.0,361.9 C888.0,362.6 889.0,363.4 890.0,364.1 C891.0,364.9 892.0,365.7 893.0,366.4 C894.0,367.2 895.0,367.9 896.0,368.7 C897.0,369.4 898.0,370.2 899.0,371.0 C900.0,371.7 901.0,372.4 902.0,373.2 C903.0,373.9 904.0,374.7 905.0,375.4 C906.0,376.2 907.0,376.9 908.0,377.7 C909.0,378.4 910.0,379.1 911.0,379.9 C912.0,380.6 913.0,381.3 914.0,382.1 C915.0,382.8 916.0,383.5 917.0,384.3 C918.0,385.0 919.0,385.7 920.0,386.4 C921.0,387.2 922.0,387.9 923.0,388.6 C924.0,389.3 925.0,390.0 926.0,390.8 C927.0,391.5 928.0,392.2 929.0,392.9 C930.0,393.6 931.0,394.3 932.0,395.0 C933.0,395.7 934.0,396.4 935.0,397.2 C936.0,397.9 937.0,398.6 938.0,399.3 C939.0,400.0 940.0,400.7 941.0,401.4 C942.0,402.1 943.0,402.8 944.0,403.5 C945.0,404.1 946.0,404.8 947.0,405.5 C948.0,406.2 949.0,406.9 950.0,407.6 C951.0,408.3 952.0,409.0 953.0,409.7 C954.0,410.3 955.0,411.0 956.0,411.7 C957.0,412.4 958.0,413.1 959.0,413.7 C960.0,414.4 961.0,415.1 962.0,415.8 C963.0,416.4 964.0,417.1 965.0,417.8 C966.0,418.4 967.0,419.1 968.0,419.8 C969.0,420.4 970.0,421.1 971.0,421.8 C972.0,422.4 973.0,423.1 974.0,423.8 C975.0,424.4 976.0,425.1 977.0,425.7 C978.0,426.4 979.0,427.0 980.0,427.7 C981.0,428.3 982.0,429.0 983.0,429.6 C984.0,430.3 985.0,430.9 986.0,431.6 C987.0,432.2 988.0,432.9 989.0,433.5 C990.0,434.1 991.0,434.8 992.0,435.4 C993.0,436.1 994.0,436.7 995.0,437.3 C996.0,438.0 997.0,438.6 998.0,439.2 C999.0,439.9 1000.0,440.5 1001.0,441.1 C1002.0,441.7 1003.0,442.4 1004.0,443.0 C1005.0,443.6 1006.0,444.2 1007.0,444.9 C1008.0,445.5 1009.0,446.1 1010.0,446.7 C1011.0,447.3 1012.0,447.9 1013.0,448.6 C1014.0,449.2 1015.0,449.8 1016.0,450.4 C1017.0,451.0 1018.0,451.6 1019.0,452.2 C1020.0,452.8 1021.0,453.4 1022.0,454.0 C1023.0,454.6 1024.0,455.2 1025.0,455.8 C1026.0,456.4 1027.0,457.0 1028.0,457.6 C1029.0,458.2 1030.0,458.8 1031.0,459.4 C1032.0,460.0 1033.0,460.6 1034.0,461.2 C1035.0,461.8 1036.0,462.4 1037.0,463.0 C1038.0,463.5 1039.0,464.1 1040.0,464.7 C1041.0,465.3 1042.0,465.9 1043.0,466.4 C1044.0,467.0 1045.0,467.6 1046.0,468.2 C1047.0,468.8 1048.0,469.3 1049.0,469.9 C1050.0,470.5 1051.0,471.0 1052.0,471.6 C1053.0,472.2 1054.0,472.8 1055.0,473.3 C1056.0,473.9 1057.0,474.4 1058.0,475.0 C1059.0,475.6 1060.0,476.1 1061.0,476.7 C1062.0,477.3 1063.0,477.8 1064.0,478.4 C1065.0,478.9 1066.0,479.5 1067.0,480.0 C1068.0,480.6 1069.0,481.1 1070.0,481.7 C1071.0,482.2 1072.0,482.8 1073.0,483.3 C1074.0,483.9 1075.0,484.4 1076.0,485.0 C1077.0,485.5 1078.0,486.0 1079.0,486.6 C1080.0,487.1 1081.0,487.7 1082.0,488.2 C1083.0,488.7 1084.0,489.3 1085.0,489.8 C1086.0,490.3 1087.0,490.9 1088.0,491.4 C1089.0,491.9 1090.0,492.5 1091.0,493.0 C1092.0,493.5 1093.0,494.0 1094.0,494.6 C1095.0,495.1 1096.0,495.6 1097.0,496.1 C1098.0,496.6 1099.0,497.2 1100.0,497.7 C1101.0,498.2 1102.0,498.7 1103.0,499.2 C1104.0,499.7 1105.0,500.2 1106.0,500.8 C1107.0,501.3 1108.0,501.8 1109.0,502.3 C1110.0,502.8 1111.0,503.3 1112.0,503.8 C1113.0,504.3 1114.0,504.8 1115.0,505.3 C1116.0,505.8 1117.0,506.3 1118.0,506.8 C1119.0,507.3 1120.0,507.8 1121.0,508.3 C1122.0,508.8 1123.0,509.3 1124.0,509.8 C1125.0,510.3 1126.0,510.8 1127.0,511.2 C1128.0,511.7 1129.0,512.2 1130.0,512.7 C1131.0,513.2 1132.0,513.7 1133.0,514.2 C1134.0,514.6 1135.0,515.1 1136.0,515.6 C1137.0,516.1 1138.0,516.5 1139.0,517.0 C1140.0,517.5 1141.0,518.0 1142.0,518.4 C1143.0,518.9 1144.0,519.4 1145.0,519.9 C1146.0,520.3 1147.0,520.8 1148.0,521.3 C1149.0,521.7 1150.0,522.2 1151.0,522.7 C1152.0,523.1 1153.0,523.6 1154.0,524.0 C1155.0,524.5 1156.0,525.0 1157.0,525.4 C1158.0,525.9 1159.0,526.3 1160.0,526.8 C1161.0,527.2 1162.0,527.7 1163.0,528.1 C1164.0,528.6 1165.0,529.0 1166.0,529.5 C1167.0,529.9 1168.0,530.4 1169.0,530.8 C1170.0,531.3 1171.0,531.7 1172.0,532.2 C1173.0,532.6 1174.0,533.0 1175.0,533.5 C1176.0,533.9 1177.0,534.4 1178.0,534.8 C1179.0,535.2 1180.0,535.7 1181.0,536.1 C1182.0,536.5 1183.0,537.0 1184.0,537.4 C1185.0,537.8 1186.0,538.2 1187.0,538.7 C1188.0,539.1 1189.0,539.5 1190.0,540.0 C1191.0,540.4 1192.0,540.8 1193.0,541.2 C1194.0,541.6 1195.0,542.1 1196.0,542.5 C1197.0,542.9 1198.0,543.3 1199.0,543.7 C1200.0,544.1 1201.0,544.6 1202.0,545.0 C1203.0,545.4 1204.0,545.8 1205.0,546.2 C1206.0,546.6 1207.0,547.0 1208.0,547.4 C1209.0,547.8 1210.0,548.2 1211.0,548.6 C1212.0,549.0 1213.0,549.4 1214.0,549.8 C1215.0,550.2 1216.0,550.6 1217.0,551.0 C1218.0,551.4 1219.0,551.8 1220.0,552.2 C1221.0,552.6 1222.0,553.0 1223.0,553.4 C1224.0,553.8 1225.0,554.2 1226.0,554.6 C1227.0,555.0 1228.0,555.3 1229.0,555.7 C1230.0,556.1 1231.0,556.5 1232.0,556.9 C1233.0,557.3 1234.0,557.6 1235.0,558.0 C1236.0,558.4 1237.0,558.8 1238.0,559.2 C1239.0,559.5 1240.0,559.9 1241.0,560.3 C1242.0,560.7 1243.0,561.0 1244.0,561.4 C1245.0,561.8 1246.0,562.1 1247.0,562.5 C1248.0,562.9 1249.0,563.2 1250.0,563.6 C1251.0,564.0 1252.0,564.3 1253.0,564.7 C1254.0,565.1 1255.0,565.4 1256.0,565.8 C1257.0,566.1 1258.0,566.5 1259.0,566.9 C1260.0,567.2 1261.0,567.6 1262.0,567.9 C1263.0,568.3 1264.0,568.6 1265.0,569.0 C1266.0,569.3 1267.0,569.7 1268.0,570.0 C1269.0,570.4 1270.0,570.7 1271.0,571.1 C1272.0,571.4 1273.0,571.8 1274.0,572.1 C1275.0,572.5 1276.0,572.8 1277.0,573.1 C1278.0,573.5 1279.0,573.8 1280.0,574.2 C1281.0,574.5 1282.0,574.8 1283.0,575.2 C1284.0,575.5 1285.0,575.8 1286.0,576.2 C1287.0,576.5 1288.0,576.8 1289.0,577.2 C1290.0,577.5 1291.0,577.8 1292.0,578.1 C1293.0,578.5 1294.0,578.8 1295.0,579.1 C1296.0,579.4 1297.0,579.8 1298.0,580.1 C1299.0,580.4 1300.0,580.7 1301.0,581.0 C1302.0,581.4 1303.0,581.7 1304.0,582.0 C1305.0,582.3 1306.0,582.6 1307.0,582.9 C1308.0,583.3 1309.0,583.6 1310.0,583.9 C1311.0,584.2 1312.0,584.5 1313.0,584.8 C1314.0,585.1 1315.0,585.4 1316.0,585.7 C1317.0,586.0 1318.0,586.3 1319.0,586.6 C1320.0,586.9 1321.0,587.2 1322.0,587.5 C1323.0,587.8 1324.0,588.1 1325.0,588.4 C1326.0,588.7 1327.0,589.0 1328.0,589.3 C1329.0,589.6 1330.0,589.9 1331.0,590.2 C1332.0,590.5 1333.0,590.8 1334.0,591.1 C1335.0,591.4 1336.0,591.6 1337.0,591.9 C1338.0,592.2 1339.0,592.5 1340.0,592.8 C1341.0,593.1 1342.0,593.4 1343.0,593.6 C1344.0,593.9 1345.0,594.2 1346.0,594.5 C1347.0,594.8 1348.0,595.0 1349.0,595.3 C1350.0,595.6 1351.0,595.9 1352.0,596.1 C1353.0,596.4 1354.0,596.7 1355.0,596.9 C1356.0,597.2 1357.0,597.5 1358.0,597.8 C1359.0,598.0 1360.0,598.3 1361.0,598.6 C1362.0,598.8 1363.0,599.1 1364.0,599.4 C1365.0,599.6 1366.0,599.9 1367.0,600.1 C1368.0,600.4 1369.0,600.7 1370.0,600.9 C1371.0,601.2 1372.0,601.4 1373.0,601.7 C1374.0,601.9 1375.0,602.2 1376.0,602.5 C1377.0,602.7 1378.0,603.0 1379.0,603.2 C1380.0,603.5 1381.0,603.7 1382.0,604.0 C1383.0,604.2 1384.0,604.5 1385.0,604.7 C1386.0,604.9 1387.0,605.2 1388.0,605.4 C1389.0,605.7 1390.0,605.9 1391.0,606.2 C1392.0,606.4 1393.0,606.6 1394.0,606.9 C1395.0,607.1 1396.0,607.4 1397.0,607.6 C1398.0,607.8 1399.0,608.1 1400.0,608.3 C1401.0,608.5 1402.0,608.8 1403.0,609.0 C1404.0,609.2 1405.0,609.5 1406.0,609.7 C1407.0,609.9 1408.0,610.1 1409.0,610.4 C1410.0,610.6 1411.0,610.8 1412.0,611.0 C1413.0,611.3 1414.0,611.5 1415.0,611.7 C1416.0,611.9 1417.0,612.1 1418.0,612.4 C1419.0,612.6 1420.0,612.8 1421.0,613.0 C1422.0,613.2 1423.0,613.4 1424.0,613.7 C1425.0,613.9 1426.0,614.1 1427.0,614.3 C1428.0,614.5 1429.0,614.7 1430.0,614.9 C1431.0,615.1 1432.0,615.3 1433.0,615.6 C1434.0,615.8 1435.0,616.0 1436.0,616.2 C1437.0,616.4 1438.0,616.6 1439.0,616.8 C1440.0,617.0 1441.0,617.2 1442.0,617.4 C1443.0,617.6 1444.0,617.8 1445.0,618.0 C1446.0,618.2 1447.0,618.4 1448.0,618.6 C1449.0,618.8 1450.0,619.0 1451.0,619.2 C1452.0,619.3 1453.0,619.5 1454.0,619.7 C1455.0,619.9 1456.0,620.1 1457.0,620.3 C1458.0,620.5 1459.0,620.7 1460.0,620.9 C1461.0,621.0 1462.0,621.2 1463.0,621.4 C1464.0,621.6 1465.0,621.8 1466.0,622.0 C1467.0,622.1 1468.0,622.3 1469.0,622.5 C1470.0,622.7 1471.0,622.9 1472.0,623.0 C1473.0,623.2 1474.0,623.4 1475.0,623.6 C1476.0,623.7 1477.0,623.9 1478.0,624.1 C1479.0,624.3 1480.0,624.4 1481.0,624.6 C1482.0,624.8 1483.0,624.9 1484.0,625.1 C1485.0,625.3 1486.0,625.4 1487.0,625.6 C1488.0,625.8 1489.0,625.9 1490.0,626.1 C1491.0,626.3 1492.0,626.4 1493.0,626.6 C1494.0,626.7 1495.0,626.9 1496.0,627.1 C1497.0,627.2 1498.0,627.4 1499.0,627.5 C1500.0,627.7 1501.0,627.9 1502.0,628.0 C1503.0,628.2 1504.0,628.3 1505.0,628.5 C1506.0,628.6 1507.0,628.8 1508.0,628.9 C1509.0,629.1 1510.0,629.2 1511.0,629.4 C1512.0,629.5 1513.0,629.7 1514.0,629.8 C1515.0,630.0 1516.0,630.1 1517.0,630.2 C1518.0,630.4 1519.0,630.5 1520.0,630.7 C1521.0,630.8 1522.0,631.0 1523.0,631.1 C1524.0,631.2 1525.0,631.4 1526.0,631.5 C1527.0,631.6 1528.0,631.8 1529.0,631.9 C1530.0,632.1 1531.0,632.2 1532.0,632.3 C1533.0,632.5 1534.0,632.6 1535.0,632.7 C1536.0,632.9 1537.0,633.0 1538.0,633.1 C1539.0,633.2 1540.0,633.4 1541.0,633.5 C1542.0,633.6 1543.0,633.7 1544.0,633.9 C1545.0,634.0 1546.0,634.1 1547.0,634.2 C1548.0,634.4 1549.0,634.5 1550.0,634.6 C1551.0,634.7 1552.0,634.9 1553.0,635.0 C1554.0,635.1 1555.0,635.2 1556.0,635.3 C1557.0,635.5 1558.0,635.6 1559.0,635.7 C1560.0,635.8 1561.0,635.9 1562.0,636.0 C1563.0,636.1 1564.0,636.3 1565.0,636.4 C1566.0,636.5 1567.0,636.6 1568.0,636.7 C1569.0,636.8 1570.0,636.9 1571.0,637.0 C1572.0,637.1 1573.0,637.3 1574.0,637.4 C1575.0,637.5 1576.0,637.6 1577.0,637.7 C1578.0,637.8 1579.0,637.9 1580.0,638.0 C1581.0,638.1 1582.0,638.2 1583.0,638.3 C1584.0,638.4 1585.0,638.5 1586.0,638.6 C1587.0,638.7 1588.0,638.8 1589.0,638.9 C1590.0,639.0 1591.0,639.1 1592.0,639.2 C1593.0,639.3 1594.0,639.4 1595.0,639.5 C1596.0,639.6 1597.0,639.7 1598.0,639.8 C1599.0,639.9 1600.0,640.0 1601.0,640.1 C1602.0,640.2 1603.0,640.3 1604.0,640.4 C1605.0,640.5 1606.0,640.5 1607.0,640.6 C1608.0,640.7 1609.0,640.8 1610.0,640.9 C1611.0,641.0 1612.0,641.1 1613.0,641.2 C1614.0,641.3 1615.0,641.4 1616.0,641.4 C1617.0,641.5 1618.0,641.6 1619.0,641.7 C1620.0,641.8 1621.0,641.9 1622.0,642.0 C1623.0,642.1 1624.0,642.1 1625.0,642.2 C1626.0,642.3 1627.0,642.4 1628.0,642.5 C1629.0,642.6 1630.0,642.6 1631.0,642.7 C1632.0,642.8 1633.0,642.9 1634.0,643.0 C1635.0,643.0 1636.0,643.1 1637.0,643.2 C1638.0,643.3 1639.0,643.4 1640.0,643.4 C1641.0,643.5 1642.0,643.6 1643.0,643.7 C1644.0,643.8 1645.0,643.8 1646.0,643.9 C1647.0,644.0 1648.0,644.1 1649.0,644.1 C1650.0,644.2 1651.0,644.3 1652.0,644.4 C1653.0,644.4 1654.0,644.5 1655.0,644.6 C1656.0,644.7 1657.0,644.7 1658.0,644.8 C1659.0,644.9 1660.0,645.0 1661.0,645.0 C1662.0,645.1 1663.0,645.2 1664.0,645.2 C1665.0,645.3 1666.0,645.4 1667.0,645.5 C1668.0,645.5 1669.0,645.6 1670.0,645.7 C1671.0,645.7 1672.0,645.8 1673.0,645.9 C1674.0,645.9 1675.0,646.0 1676.0,646.1 C1677.0,646.2 1678.0,646.2 1679.0,646.3 C1680.0,646.4 1681.0,646.4 1682.0,646.5 C1683.0,646.6 1684.0,646.6 1685.0,646.7 C1686.0,646.8 1687.0,646.8 1688.0,646.9 C1689.0,647.0 1690.0,647.0 1691.0,647.1 C1692.0,647.2 1693.0,647.2 1694.0,647.3 C1695.0,647.4 1696.0,647.4 1697.0,647.5 C1698.0,647.6 1699.0,647.6 1700.0,647.7 C1701.0,647.7 1702.0,647.8 1703.0,647.9 C1704.0,647.9 1705.0,648.0 1706.0,648.1 C1707.0,648.1 1708.0,648.2 1709.0,648.3 C1710.0,648.3 1711.0,648.4 1712.0,648.4 C1713.0,648.5 1714.0,648.6 1715.0,648.6 C1716.0,648.7 1717.0,648.8 1718.0,648.8 C1719.0,648.9 1720.0,648.9 1721.0,649.0 C1722.0,649.1 1723.0,649.1 1724.0,649.2 C1725.0,649.3 1726.0,649.3 1727.0,649.4 C1728.0,649.4 1729.0,649.5 1730.0,649.6 C1731.0,649.6 1732.0,649.7 1733.0,649.8 C1734.0,649.8 1735.0,649.9 1736.0,649.9 C1737.0,650.0 1738.0,650.1 1739.0,650.1 C1740.0,650.2 1741.0,650.2 1742.0,650.3 C1743.0,650.4 1744.0,650.4 1745.0,650.5 C1746.0,650.5 1747.0,650.6 1748.0,650.7 C1749.0,650.7 1750.0,650.8 1751.0,650.9 C1752.0,650.9 1753.0,651.0 1754.0,651.0 C1755.0,651.1 1756.0,651.2 1757.0,651.2 C1758.0,651.3 1759.0,651.3 1760.0,651.4 C1761.0,651.5 1762.0,651.5 1763.0,651.6 C1764.0,651.7 1765.0,651.7 1766.0,651.8 C1767.0,651.8 1768.0,651.9 1769.0,652.0 C1770.0,652.0 1771.0,652.1 1772.0,652.2 C1773.0,652.2 1774.0,652.3 1775.0,652.3 C1776.0,652.4 1777.0,652.5 1778.0,652.5 C1779.0,652.6 1780.0,652.7 1781.0,652.7 C1782.0,652.8 1783.0,652.8 1784.0,652.9 C1785.0,653.0 1786.0,653.0 1787.0,653.1 C1788.0,653.2 1789.0,653.2 1790.0,653.3 C1791.0,653.4 1792.0,653.4 1793.0,653.5 C1794.0,653.5 1795.0,653.6 1796.0,653.7 C1797.0,653.7 1798.0,653.8 1799.0,653.9 C1800.0,653.9 1801.0,654.0 1802.0,654.1 C1803.0,654.1 1804.0,654.2 1805.0,654.3 C1806.0,654.3 1807.0,654.4 1808.0,654.5 C1809.0,654.5 1810.0,654.6 1811.0,654.7 C1812.0,654.8 1813.0,654.8 1814.0,654.9 C1815.0,655.0 1816.0,655.0 1817.0,655.1 C1818.0,655.2 1819.0,655.3 1820.0,655.3 C1821.0,655.4 1822.0,655.5 1823.0,655.5 C1824.0,655.6 1825.0,655.7 1826.0,655.8 C1827.0,655.9 1828.0,655.9 1829.0,656.0 C1830.0,656.1 1831.0,656.2 1832.0,656.3 C1833.0,656.3 1834.0,656.4 1835.0,656.5 C1836.0,656.6 1837.0,656.7 1838.0,656.8 C1839.0,656.9 1840.0,657.0 1841.0,657.0 C1842.0,657.1 1843.0,657.2 1844.0,657.3 C1845.0,657.4 1846.0,657.5 1847.0,657.6 C1848.0,657.7 1849.0,657.8 1850.0,657.9 C1851.0,658.0 1852.0,658.1 1853.0,658.2 C1854.0,658.3 1855.0,658.4 1856.0,658.6 C1857.0,658.7 1858.0,658.8 1859.0,658.9 C1860.0,659.0 1861.0,659.1 1862.0,659.2 C1863.0,659.4 1864.0,659.5 1865.0,659.6 C1866.0,659.7 1867.0,659.9 1868.0,660.0 C1869.0,660.1 1870.0,660.2 1871.0,660.4 C1872.0,660.5 1873.0,660.6 1874.0,660.8 C1875.0,660.9 1876.0,661.1 1877.0,661.2 C1878.0,661.4 1879.0,661.5 1880.0,661.7 C1881.0,661.8 1882.0,662.0 1883.0,662.1 C1884.0,662.3 1885.0,662.4 1886.0,662.6 C1887.0,662.7 1888.0,662.9 1889.0,663.1 C1890.0,663.3 1891.0,663.4 1892.0,663.6 C1893.0,663.8 1894.0,664.0 1895.0,664.1 C1896.0,664.3 1897.0,664.5 1898.0,664.7 C1899.0,664.9 1900.0,665.1 1901.0,665.3 C1902.0,665.5 1903.0,665.7 1904.0,665.9 C1905.0,666.1 1906.0,666.3 1907.0,666.5 C1908.0,666.7 1909.0,666.9 1910.0,667.1 C1911.0,667.3 1912.0,667.6 1913.0,667.8 C1914.0,668.0 1915.0,668.2 1916.0,668.5 C1917.0,668.7 1918.0,669.0 1919.0,669.2 C1920.0,669.4 1921.0,669.7 1922.0,669.9 C1923.0,670.2 1924.0,670.4 1925.0,670.7 C1926.0,671.0 1927.0,671.2 1928.0,671.5 C1929.0,671.8 1930.0,672.0 1931.0,672.3 C1932.0,672.6 1933.0,672.9 1934.0,673.2 C1935.0,673.4 1936.0,673.7 1937.0,674.0 C1938.0,674.3 1939.0,674.6 1940.0,674.9 C1941.0,675.2 1942.0,675.5 1943.0,675.9 C1944.0,676.2 1945.0,676.5 1946.0,676.8 C1947.0,677.2 1948.0,677.5 1949.0,677.8 C1950.0,678.2 1951.0,678.5 1952.0,678.8 C1953.0,679.2 1954.0,679.5 1955.0,679.9 C1956.0,680.2 1957.0,680.6 1958.0,681.0 C1959.0,681.3 1960.0,681.7 1961.0,682.0 C1962.0,682.4 1963.0,682.8 1964.0,683.1 C1965.0,683.5 1966.0,683.8 1967.0,684.2 C1968.0,684.5 1969.0,684.9 1970.0,685.2 C1971.0,685.6 1972.0,685.9 1973.0,686.3 C1974.0,686.6 1975.0,687.0 1976.0,687.3 C1977.0,687.6 1978.0,687.9 1979.0,688.3 C1980.0,688.6 1981.0,688.9 1982.0,689.2 C1983.0,689.5 1984.0,689.8 1985.0,690.1 C1986.0,690.3 1987.0,690.6 1988.0,690.9 C1989.0,691.1 1990.0,691.4 1991.0,691.6 C1992.0,691.8 1993.0,692.1 1994.0,692.3 C1995.0,692.5 1996.0,692.7 1997.0,692.9 C1998.0,693.0 1999.2,693.2 2000.0,693.3 C2000.5,693.4 2000.9,693.5 2001.3,693.5" fill="none" stroke="#000000" stroke-width="9.2" stroke-linejoin="round" stroke-linecap="butt"/>
<path d="M312.3,190.0 C312.3,180.0 312.3,170.0 312.3,160.0 C312.3,150.0 312.4,139.5 312.5,130.0 C312.6,121.3 312.7,112.6 313.0,105.0 C313.2,98.5 313.5,92.5 313.9,87.0 C314.3,82.3 314.6,77.4 315.3,74.0 C315.8,71.8 316.2,69.6 317.0,68.5 C317.5,67.8 318.1,67.2 318.6,67.2 C319.2,67.2 319.7,68.1 320.2,69.0 C321.0,70.5 321.3,73.3 321.8,76.0 C322.4,79.5 322.8,83.9 323.2,88.0 C323.7,92.2 324.0,96.8 324.5,101.0 C324.9,104.8 325.3,108.5 325.8,112.0 C326.3,115.3 326.7,118.7 327.3,121.5 C327.8,123.7 328.3,125.5 328.8,127.5 C329.3,129.4 329.8,131.1 330.2,133.0 C330.7,135.0 331.1,137.0 331.5,139.0 C331.9,140.9 332.3,142.6 332.8,144.5 C333.3,146.5 333.9,148.6 334.6,150.5 C335.3,152.4 335.9,154.2 336.8,156.0 C337.7,158.0 338.8,160.1 340.0,162.0 C341.2,163.9 342.6,165.7 344.0,167.4 C345.3,169.0 346.6,170.6 348.0,171.8 C349.3,172.9 350.5,173.6 352.0,174.3 C353.8,175.1 356.0,175.3 358.0,176.0 C360.0,176.7 362.0,177.5 364.0,178.5 C366.0,179.6 368.0,181.0 370.0,182.3 C372.0,183.6 374.0,185.1 376.0,186.5 C378.0,188.0 380.1,189.6 382.0,191.0 C383.7,192.3 385.5,193.7 387.0,194.8 C388.3,195.7 389.3,196.7 390.5,197.3 C391.5,197.8 392.5,198.5 393.4,198.3 C394.4,198.1 395.5,197.0 396.2,195.8 C397.2,194.0 397.5,190.9 397.9,188.0 C398.5,184.2 398.7,179.5 398.9,175.0 C399.1,170.2 399.1,164.8 399.2,160.0 C399.3,155.5 399.3,150.7 399.6,147.0 C399.8,144.3 400.0,141.8 400.6,140.0 C401.0,138.7 401.5,137.6 402.3,137.0 C402.9,136.5 403.7,136.4 404.5,136.4 C405.5,136.5 406.9,137.3 408.0,137.8 C409.1,138.3 409.9,139.0 411.3,139.6 C413.5,140.5 417.0,141.6 420.0,142.5 C423.2,143.4 426.7,144.3 430.0,145.1 C433.3,145.9 437.6,146.6 440.0,147.1 C441.3,147.4 442.0,147.5 443.0,147.7 C444.0,147.9 445.0,148.1 446.0,148.3 C447.0,148.5 448.0,148.7 449.0,148.9 C450.0,149.0 451.0,149.2 452.0,149.4 C453.0,149.6 454.0,149.7 455.0,149.9 C456.0,150.0 457.0,150.2 458.0,150.4 C459.0,150.5 460.0,150.7 461.0,150.8 C462.0,151.0 463.0,151.1 464.0,151.2 C465.0,151.4 466.0,151.5 467.0,151.6 C468.0,151.8 469.0,151.9 470.0,152.0 C471.0,152.1 472.0,152.2 473.0,152.4 C474.0,152.5 475.0,152.6 476.0,152.7 C477.0,152.8 478.0,152.9 479.0,153.0 C480.0,153.1 481.0,153.2 482.0,153.3 C483.0,153.4 484.0,153.5 485.0,153.5 C486.0,153.6 487.0,153.7 488.0,153.8 C489.0,153.9 490.0,153.9 491.0,154.0 C492.0,154.1 493.0,154.2 494.0,154.2 C495.0,154.3 496.0,154.4 497.0,154.4 C498.0,154.5 499.0,154.5 500.0,154.6 C501.0,154.7 502.0,154.7 503.0,154.8 C504.0,154.8 505.0,154.9 506.0,154.9 C507.0,155.0 508.0,155.0 509.0,155.1 C510.0,155.1 511.0,155.2 512.0,155.2 C513.0,155.2 514.0,155.3 515.0,155.3 C516.0,155.4 517.0,155.4 518.0,155.5 C519.0,155.5 520.0,155.5 521.0,155.6 C522.0,155.6 523.0,155.6 524.0,155.7 C525.0,155.7 526.0,155.8 527.0,155.8 C528.0,155.8 529.0,155.9 530.0,155.9 C531.0,155.9 532.0,156.0 533.0,156.0 C534.0,156.1 535.0,156.1 536.0,156.1 C537.0,156.2 538.0,156.2 539.0,156.3 C540.0,156.3 541.0,156.3 542.0,156.4 C543.0,156.4 544.0,156.5 545.0,156.5 C546.0,156.6 547.0,156.6 548.0,156.6 C549.0,156.7 550.0,156.7 551.0,156.8 C552.0,156.8 553.0,156.9 554.0,156.9 C555.0,157.0 556.0,157.1 557.0,157.1 C558.0,157.2 559.0,157.2 560.0,157.3 C561.0,157.4 562.0,157.4 563.0,157.5 C564.0,157.6 565.0,157.6 566.0,157.7 C567.0,157.8 568.0,157.8 569.0,157.9 C570.0,158.0 571.0,158.1 572.0,158.2 C573.0,158.3 574.0,158.3 575.0,158.4 C576.0,158.5 577.0,158.6 578.0,158.7 C579.0,158.8 580.0,158.9 581.0,159.0 C582.0,159.1 583.0,159.2 584.0,159.4 C585.0,159.5 586.0,159.6 587.0,159.7 C588.0,159.8 589.0,160.0 590.0,160.1 C591.0,160.2 592.0,160.3 593.0,160.5 C594.0,160.6 595.0,160.8 596.0,160.9 C597.0,161.1 598.0,161.2 599.0,161.4 C600.0,161.5 601.0,161.7 602.0,161.9 C603.0,162.0 604.0,162.2 605.0,162.4 C606.0,162.6 607.0,162.8 608.0,163.0 C609.0,163.2 610.0,163.4 611.0,163.6 C612.0,163.8 613.0,164.0 614.0,164.2 C615.0,164.4 616.0,164.6 617.0,164.8 C618.0,165.1 619.0,165.3 620.0,165.5 C621.0,165.8 622.0,166.0 623.0,166.3 C624.0,166.5 625.0,166.8 626.0,167.1 C627.0,167.3 628.0,167.6 629.0,167.9 C630.0,168.2 631.0,168.5 632.0,168.8 C633.0,169.1 634.0,169.4 635.0,169.7 C636.0,170.0 637.0,170.3 638.0,170.6 C639.0,170.9 640.0,171.3 641.0,171.6 C642.0,172.0 643.0,172.3 644.0,172.7 C645.0,173.0 646.0,173.4 647.0,173.7 C648.0,174.1 649.0,174.5 650.0,174.8 C651.0,175.2 652.0,175.6 653.0,176.0 C654.0,176.4 655.0,176.8 656.0,177.2 C657.0,177.6 658.0,178.0 659.0,178.4 C660.0,178.8 661.0,179.3 662.0,179.7 C663.0,180.1 664.0,180.5 665.0,181.0 C666.0,181.4 667.0,181.8 668.0,182.3 C669.0,182.7 670.0,183.2 671.0,183.6 C672.0,184.1 673.0,184.6 674.0,185.0 C675.0,185.5 676.0,186.0 677.0,186.4 C678.0,186.9 679.0,187.4 680.0,187.9 C681.0,188.4 682.0,188.9 683.0,189.3 C684.0,189.8 685.0,190.3 686.0,190.8 C687.0,191.3 688.0,191.8 689.0,192.3 C690.0,192.9 691.0,193.4 692.0,193.9 C693.0,194.4 694.0,194.9 695.0,195.4 C696.0,196.0 697.0,196.5 698.0,197.0 C699.0,197.5 700.0,198.1 701.0,198.6 C702.0,199.1 703.0,199.7 704.0,200.2 C705.0,200.7 706.0,201.3 707.0,201.8 C708.0,202.4 709.0,202.9 710.0,203.5 C711.0,204.0 712.0,204.6 713.0,205.1 C714.0,205.7 715.0,206.2 716.0,206.8 C717.0,207.4 718.0,207.9 719.0,208.5 C720.0,209.1 721.0,209.6 722.0,210.2 C723.0,210.8 724.0,211.3 725.0,211.9 C726.0,212.5 727.0,213.1 728.0,213.7 C729.0,214.2 730.0,214.8 731.0,215.4 C732.0,216.0 733.0,216.6 734.0,217.2 C735.0,217.8 736.0,218.4 737.0,219.0 C738.0,219.5 739.0,220.1 740.0,220.7 C741.0,221.3 742.0,222.0 743.0,222.6 C744.0,223.2 745.0,223.8 746.0,224.4 C747.0,225.0 748.0,225.6 749.0,226.2 C750.0,226.8 751.0,227.4 752.0,228.1 C753.0,228.7 754.0,229.3 755.0,229.9 C756.0,230.6 757.0,231.2 758.0,231.8 C759.0,232.4 760.0,233.1 761.0,233.7 C762.0,234.3 763.0,235.0 764.0,235.6 C765.0,236.2 766.0,236.9 767.0,237.5 C768.0,238.2 769.0,238.8 770.0,239.4 C771.0,240.1 772.0,240.7 773.0,241.4 C774.0,242.0 775.0,242.7 776.0,243.3 C777.0,244.0 778.0,244.6 779.0,245.3 C780.0,245.9 781.0,246.6 782.0,247.3 C783.0,247.9 784.0,248.6 785.0,249.2 C786.0,249.9 787.0,250.6 788.0,251.2 C789.0,251.9 790.0,252.6 791.0,253.2 C792.0,253.9 793.0,254.6 794.0,255.3 C795.0,255.9 796.0,256.6 797.0,257.3 C798.0,258.0 799.0,258.7 800.0,259.3 C801.0,260.0 802.0,260.7 803.0,261.4 C804.0,262.1 805.0,262.7 806.0,263.4 C807.0,264.1 808.0,264.8 809.0,265.5 C810.0,266.2 811.0,266.9 812.0,267.6 C813.0,268.3 814.0,269.0 815.0,269.7 C816.0,270.4 817.0,271.1 818.0,271.8 C819.0,272.5 820.0,273.2 821.0,273.9 C822.0,274.6 823.0,275.3 824.0,276.0 C825.0,276.7 826.0,277.4 827.0,278.1 C828.0,278.8 829.0,279.5 830.0,280.2 C831.0,280.9 832.0,281.6 833.0,282.4 C834.0,283.1 835.0,283.8 836.0,284.5 C837.0,285.2 838.0,285.9 839.0,286.6 C840.0,287.4 841.0,288.1 842.0,288.8 C843.0,289.5 844.0,290.2 845.0,291.0 C846.0,291.7 847.0,292.4 848.0,293.1 C849.0,293.9 850.0,294.6 851.0,295.3 C852.0,296.0 853.0,296.8 854.0,297.5 C855.0,298.2 856.0,298.9 857.0,299.7 C858.0,300.4 859.0,301.1 860.0,301.8 C861.0,302.6 862.0,303.3 863.0,304.0 C864.0,304.8 865.0,305.5 866.0,306.2 C867.0,306.9 868.0,307.7 869.0,308.4 C870.0,309.1 871.0,309.9 872.0,310.6 C873.0,311.3 874.0,312.0 875.0,312.8 C876.0,313.5 877.0,314.2 878.0,315.0 C879.0,315.7 880.0,316.4 881.0,317.1 C882.0,317.9 883.0,318.6 884.0,319.3 C885.0,320.0 886.0,320.8 887.0,321.5 C888.0,322.2 889.0,322.9 890.0,323.7 C891.0,324.4 892.0,325.1 893.0,325.8 C894.0,326.5 895.0,327.3 896.0,328.0 C897.0,328.7 898.0,329.4 899.0,330.1 C900.0,330.9 901.0,331.6 902.0,332.3 C903.0,333.0 904.0,333.7 905.0,334.4 C906.0,335.1 907.0,335.8 908.0,336.6 C909.0,337.3 910.0,338.0 911.0,338.7 C912.0,339.4 913.0,340.1 914.0,340.8 C915.0,341.5 916.0,342.2 917.0,342.9 C918.0,343.6 919.0,344.3 920.0,345.0 C921.0,345.7 922.0,346.4 923.0,347.1 C924.0,347.8 925.0,348.4 926.0,349.1 C927.0,349.8 928.0,350.5 929.0,351.2 C930.0,351.9 931.0,352.6 932.0,353.3 C933.0,353.9 934.0,354.6 935.0,355.3 C936.0,356.0 937.0,356.7 938.0,357.4 C939.0,358.0 940.0,358.7 941.0,359.4 C942.0,360.1 943.0,360.7 944.0,361.4 C945.0,362.1 946.0,362.8 947.0,363.4 C948.0,364.1 949.0,364.8 950.0,365.4 C951.0,366.1 952.0,366.8 953.0,367.5 C954.0,368.1 955.0,368.8 956.0,369.4 C957.0,370.1 958.0,370.8 959.0,371.4 C960.0,372.1 961.0,372.8 962.0,373.4 C963.0,374.1 964.0,374.7 965.0,375.4 C966.0,376.1 967.0,376.7 968.0,377.4 C969.0,378.0 970.0,378.7 971.0,379.3 C972.0,380.0 973.0,380.6 974.0,381.3 C975.0,381.9 976.0,382.6 977.0,383.3 C978.0,383.9 979.0,384.6 980.0,385.2 C981.0,385.8 982.0,386.5 983.0,387.1 C984.0,387.8 985.0,388.4 986.0,389.1 C987.0,389.7 988.0,390.4 989.0,391.0 C990.0,391.7 991.0,392.3 992.0,392.9 C993.0,393.6 994.0,394.2 995.0,394.9 C996.0,395.5 997.0,396.1 998.0,396.8 C999.0,397.4 1000.0,398.1 1001.0,398.7 C1002.0,399.3 1003.0,400.0 1004.0,400.6 C1005.0,401.2 1006.0,401.9 1007.0,402.5 C1008.0,403.1 1009.0,403.8 1010.0,404.4 C1011.0,405.0 1012.0,405.7 1013.0,406.3 C1014.0,406.9 1015.0,407.6 1016.0,408.2 C1017.0,408.8 1018.0,409.5 1019.0,410.1 C1020.0,410.7 1021.0,411.3 1022.0,412.0 C1023.0,412.6 1024.0,413.2 1025.0,413.9 C1026.0,414.5 1027.0,415.1 1028.0,415.7 C1029.0,416.4 1030.0,417.0 1031.0,417.6 C1032.0,418.2 1033.0,418.9 1034.0,419.5 C1035.0,420.1 1036.0,420.7 1037.0,421.4 C1038.0,422.0 1039.0,422.6 1040.0,423.2 C1041.0,423.8 1042.0,424.5 1043.0,425.1 C1044.0,425.7 1045.0,426.3 1046.0,426.9 C1047.0,427.5 1048.0,428.2 1049.0,428.8 C1050.0,429.4 1051.0,430.0 1052.0,430.6 C1053.0,431.2 1054.0,431.8 1055.0,432.5 C1056.0,433.1 1057.0,433.7 1058.0,434.3 C1059.0,434.9 1060.0,435.5 1061.0,436.1 C1062.0,436.7 1063.0,437.3 1064.0,437.9 C1065.0,438.5 1066.0,439.1 1067.0,439.7 C1068.0,440.3 1069.0,440.9 1070.0,441.5 C1071.0,442.1 1072.0,442.7 1073.0,443.3 C1074.0,443.9 1075.0,444.5 1076.0,445.1 C1077.0,445.7 1078.0,446.3 1079.0,446.9 C1080.0,447.5 1081.0,448.1 1082.0,448.7 C1083.0,449.2 1084.0,449.8 1085.0,450.4 C1086.0,451.0 1087.0,451.6 1088.0,452.2 C1089.0,452.7 1090.0,453.3 1091.0,453.9 C1092.0,454.5 1093.0,455.1 1094.0,455.6 C1095.0,456.2 1096.0,456.8 1097.0,457.4 C1098.0,457.9 1099.0,458.5 1100.0,459.1 C1101.0,459.6 1102.0,460.2 1103.0,460.8 C1104.0,461.3 1105.0,461.9 1106.0,462.5 C1107.0,463.0 1108.0,463.6 1109.0,464.1 C1110.0,464.7 1111.0,465.3 1112.0,465.8 C1113.0,466.4 1114.0,466.9 1115.0,467.5 C1116.0,468.0 1117.0,468.6 1118.0,469.1 C1119.0,469.7 1120.0,470.2 1121.0,470.7 C1122.0,471.3 1123.0,471.8 1124.0,472.4 C1125.0,472.9 1126.0,473.4 1127.0,474.0 C1128.0,474.5 1129.0,475.0 1130.0,475.6 C1131.0,476.1 1132.0,476.6 1133.0,477.1 C1134.0,477.7 1135.0,478.2 1136.0,478.7 C1137.0,479.2 1138.0,479.8 1139.0,480.3 C1140.0,480.8 1141.0,481.3 1142.0,481.8 C1143.0,482.3 1144.0,482.8 1145.0,483.3 C1146.0,483.8 1147.0,484.4 1148.0,484.9 C1149.0,485.4 1150.0,485.9 1151.0,486.4 C1152.0,486.9 1153.0,487.4 1154.0,487.9 C1155.0,488.3 1156.0,488.8 1157.0,489.3 C1158.0,489.8 1159.0,490.3 1160.0,490.8 C1161.0,491.3 1162.0,491.8 1163.0,492.3 C1164.0,492.7 1165.0,493.2 1166.0,493.7 C1167.0,494.2 1168.0,494.7 1169.0,495.1 C1170.0,495.6 1171.0,496.1 1172.0,496.6 C1173.0,497.0 1174.0,497.5 1175.0,498.0 C1176.0,498.4 1177.0,498.9 1178.0,499.4 C1179.0,499.8 1180.0,500.3 1181.0,500.8 C1182.0,501.2 1183.0,501.7 1184.0,502.1 C1185.0,502.6 1186.0,503.1 1187.0,503.5 C1188.0,504.0 1189.0,504.4 1190.0,504.9 C1191.0,505.3 1192.0,505.8 1193.0,506.2 C1194.0,506.7 1195.0,507.1 1196.0,507.6 C1197.0,508.0 1198.0,508.4 1199.0,508.9 C1200.0,509.3 1201.0,509.8 1202.0,510.2 C1203.0,510.6 1204.0,511.1 1205.0,511.5 C1206.0,512.0 1207.0,512.4 1208.0,512.8 C1209.0,513.3 1210.0,513.7 1211.0,514.1 C1212.0,514.5 1213.0,515.0 1214.0,515.4 C1215.0,515.8 1216.0,516.2 1217.0,516.7 C1218.0,517.1 1219.0,517.5 1220.0,517.9 C1221.0,518.4 1222.0,518.8 1223.0,519.2 C1224.0,519.6 1225.0,520.0 1226.0,520.4 C1227.0,520.9 1228.0,521.3 1229.0,521.7 C1230.0,522.1 1231.0,522.5 1232.0,522.9 C1233.0,523.3 1234.0,523.7 1235.0,524.1 C1236.0,524.5 1237.0,524.9 1238.0,525.3 C1239.0,525.8 1240.0,526.2 1241.0,526.6 C1242.0,527.0 1243.0,527.4 1244.0,527.8 C1245.0,528.2 1246.0,528.6 1247.0,528.9 C1248.0,529.3 1249.0,529.7 1250.0,530.1 C1251.0,530.5 1252.0,530.9 1253.0,531.3 C1254.0,531.7 1255.0,532.1 1256.0,532.5 C1257.0,532.9 1258.0,533.3 1259.0,533.7 C1260.0,534.0 1261.0,534.4 1262.0,534.8 C1263.0,535.2 1264.0,535.6 1265.0,536.0 C1266.0,536.3 1267.0,536.7 1268.0,537.1 C1269.0,537.5 1270.0,537.9 1271.0,538.2 C1272.0,538.6 1273.0,539.0 1274.0,539.4 C1275.0,539.8 1276.0,540.1 1277.0,540.5 C1278.0,540.9 1279.0,541.3 1280.0,541.6 C1281.0,542.0 1282.0,542.4 1283.0,542.7 C1284.0,543.1 1285.0,543.5 1286.0,543.8 C1287.0,544.2 1288.0,544.6 1289.0,544.9 C1290.0,545.3 1291.0,545.7 1292.0,546.0 C1293.0,546.4 1294.0,546.8 1295.0,547.1 C1296.0,547.5 1297.0,547.8 1298.0,548.2 C1299.0,548.6 1300.0,548.9 1301.0,549.3 C1302.0,549.6 1303.0,550.0 1304.0,550.3 C1305.0,550.7 1306.0,551.1 1307.0,551.4 C1308.0,551.8 1309.0,552.1 1310.0,552.5 C1311.0,552.8 1312.0,553.2 1313.0,553.5 C1314.0,553.8 1315.0,554.2 1316.0,554.5 C1317.0,554.9 1318.0,555.2 1319.0,555.6 C1320.0,555.9 1321.0,556.3 1322.0,556.6 C1323.0,556.9 1324.0,557.3 1325.0,557.6 C1326.0,558.0 1327.0,558.3 1328.0,558.6 C1329.0,559.0 1330.0,559.3 1331.0,559.6 C1332.0,560.0 1333.0,560.3 1334.0,560.6 C1335.0,561.0 1336.0,561.3 1337.0,561.6 C1338.0,561.9 1339.0,562.3 1340.0,562.6 C1341.0,562.9 1342.0,563.2 1343.0,563.6 C1344.0,563.9 1345.0,564.2 1346.0,564.5 C1347.0,564.9 1348.0,565.2 1349.0,565.5 C1350.0,565.8 1351.0,566.1 1352.0,566.5 C1353.0,566.8 1354.0,567.1 1355.0,567.4 C1356.0,567.7 1357.0,568.0 1358.0,568.3 C1359.0,568.7 1360.0,569.0 1361.0,569.3 C1362.0,569.6 1363.0,569.9 1364.0,570.2 C1365.0,570.5 1366.0,570.8 1367.0,571.1 C1368.0,571.4 1369.0,571.7 1370.0,572.0 C1371.0,572.3 1372.0,572.6 1373.0,572.9 C1374.0,573.2 1375.0,573.5 1376.0,573.8 C1377.0,574.1 1378.0,574.4 1379.0,574.7 C1380.0,575.0 1381.0,575.3 1382.0,575.6 C1383.0,575.9 1384.0,576.2 1385.0,576.5 C1386.0,576.8 1387.0,577.1 1388.0,577.4 C1389.0,577.6 1390.0,577.9 1391.0,578.2 C1392.0,578.5 1393.0,578.8 1394.0,579.1 C1395.0,579.3 1396.0,579.6 1397.0,579.9 C1398.0,580.2 1399.0,580.5 1400.0,580.7 C1401.0,581.0 1402.0,581.3 1403.0,581.6 C1404.0,581.9 1405.0,582.1 1406.0,582.4 C1407.0,582.7 1408.0,582.9 1409.0,583.2 C1410.0,583.5 1411.0,583.8 1412.0,584.0 C1413.0,584.3 1414.0,584.6 1415.0,584.8 C1416.0,585.1 1417.0,585.4 1418.0,585.6 C1419.0,585.9 1420.0,586.1 1421.0,586.4 C1422.0,586.7 1423.0,586.9 1424.0,587.2 C1425.0,587.4 1426.0,587.7 1427.0,587.9 C1428.0,588.2 1429.0,588.5 1430.0,588.7 C1431.0,589.0 1432.0,589.2 1433.0,589.5 C1434.0,589.7 1435.0,590.0 1436.0,590.2 C1437.0,590.5 1438.0,590.7 1439.0,591.0 C1440.0,591.2 1441.0,591.4 1442.0,591.7 C1443.0,591.9 1444.0,592.2 1445.0,592.4 C1446.0,592.6 1447.0,592.9 1448.0,593.1 C1449.0,593.4 1450.0,593.6 1451.0,593.8 C1452.0,594.1 1453.0,594.3 1454.0,594.5 C1455.0,594.8 1456.0,595.0 1457.0,595.2 C1458.0,595.4 1459.0,595.7 1460.0,595.9 C1461.0,596.1 1462.0,596.4 1463.0,596.6 C1464.0,596.8 1465.0,597.0 1466.0,597.2 C1467.0,597.5 1468.0,597.7 1469.0,597.9 C1470.0,598.1 1471.0,598.3 1472.0,598.6 C1473.0,598.8 1474.0,599.0 1475.0,599.2 C1476.0,599.4 1477.0,599.6 1478.0,599.8 C1479.0,600.1 1480.0,600.3 1481.0,600.5 C1482.0,600.7 1483.0,600.9 1484.0,601.1 C1485.0,601.3 1486.0,601.5 1487.0,601.7 C1488.0,601.9 1489.0,602.1 1490.0,602.3 C1491.0,602.5 1492.0,602.7 1493.0,602.9 C1494.0,603.1 1495.0,603.3 1496.0,603.5 C1497.0,603.7 1498.0,603.9 1499.0,604.1 C1500.0,604.3 1501.0,604.5 1502.0,604.6 C1503.0,604.8 1504.0,605.0 1505.0,605.2 C1506.0,605.4 1507.0,605.6 1508.0,605.8 C1509.0,605.9 1510.0,606.1 1511.0,606.3 C1512.0,606.5 1513.0,606.7 1514.0,606.8 C1515.0,607.0 1516.0,607.2 1517.0,607.4 C1518.0,607.6 1519.0,607.7 1520.0,607.9 C1521.0,608.1 1522.0,608.2 1523.0,608.4 C1524.0,608.6 1525.0,608.8 1526.0,608.9 C1527.0,609.1 1528.0,609.3 1529.0,609.4 C1530.0,609.6 1531.0,609.7 1532.0,609.9 C1533.0,610.1 1534.0,610.2 1535.0,610.4 C1536.0,610.5 1537.0,610.7 1538.0,610.9 C1539.0,611.0 1540.0,611.2 1541.0,611.3 C1542.0,611.5 1543.0,611.6 1544.0,611.8 C1545.0,611.9 1546.0,612.1 1547.0,612.2 C1548.0,612.4 1549.0,612.5 1550.0,612.7 C1551.0,612.8 1552.0,613.0 1553.0,613.1 C1554.0,613.3 1555.0,613.4 1556.0,613.5 C1557.0,613.7 1558.0,613.8 1559.0,614.0 C1560.0,614.1 1561.0,614.2 1562.0,614.4 C1563.0,614.5 1564.0,614.7 1565.0,614.8 C1566.0,614.9 1567.0,615.1 1568.0,615.2 C1569.0,615.3 1570.0,615.5 1571.0,615.6 C1572.0,615.7 1573.0,615.9 1574.0,616.0 C1575.0,616.1 1576.0,616.2 1577.0,616.4 C1578.0,616.5 1579.0,616.6 1580.0,616.7 C1581.0,616.9 1582.0,617.0 1583.0,617.1 C1584.0,617.2 1585.0,617.4 1586.0,617.5 C1587.0,617.6 1588.0,617.7 1589.0,617.8 C1590.0,618.0 1591.0,618.1 1592.0,618.2 C1593.0,618.3 1594.0,618.4 1595.0,618.5 C1596.0,618.7 1597.0,618.8 1598.0,618.9 C1599.0,619.0 1600.0,619.1 1601.0,619.2 C1602.0,619.3 1603.0,619.4 1604.0,619.6 C1605.0,619.7 1606.0,619.8 1607.0,619.9 C1608.0,620.0 1609.0,620.1 1610.0,620.2 C1611.0,620.3 1612.0,620.4 1613.0,620.5 C1614.0,620.6 1615.0,620.7 1616.0,620.8 C1617.0,620.9 1618.0,621.0 1619.0,621.1 C1620.0,621.3 1621.0,621.4 1622.0,621.5 C1623.0,621.6 1624.0,621.7 1625.0,621.8 C1626.0,621.9 1627.0,622.0 1628.0,622.0 C1629.0,622.1 1630.0,622.2 1631.0,622.3 C1632.0,622.4 1633.0,622.5 1634.0,622.6 C1635.0,622.7 1636.0,622.8 1637.0,622.9 C1638.0,623.0 1639.0,623.1 1640.0,623.2 C1641.0,623.3 1642.0,623.4 1643.0,623.5 C1644.0,623.6 1645.0,623.6 1646.0,623.7 C1647.0,623.8 1648.0,623.9 1649.0,624.0 C1650.0,624.1 1651.0,624.2 1652.0,624.3 C1653.0,624.4 1654.0,624.5 1655.0,624.5 C1656.0,624.6 1657.0,624.7 1658.0,624.8 C1659.0,624.9 1660.0,625.0 1661.0,625.1 C1662.0,625.1 1663.0,625.2 1664.0,625.3 C1665.0,625.4 1666.0,625.5 1667.0,625.6 C1668.0,625.6 1669.0,625.7 1670.0,625.8 C1671.0,625.9 1672.0,626.0 1673.0,626.1 C1674.0,626.1 1675.0,626.2 1676.0,626.3 C1677.0,626.4 1678.0,626.5 1679.0,626.5 C1680.0,626.6 1681.0,626.7 1682.0,626.8 C1683.0,626.9 1684.0,626.9 1685.0,627.0 C1686.0,627.1 1687.0,627.2 1688.0,627.2 C1689.0,627.3 1690.0,627.4 1691.0,627.5 C1692.0,627.6 1693.0,627.6 1694.0,627.7 C1695.0,627.8 1696.0,627.9 1697.0,627.9 C1698.0,628.0 1699.0,628.1 1700.0,628.2 C1701.0,628.2 1702.0,628.3 1703.0,628.4 C1704.0,628.5 1705.0,628.6 1706.0,628.6 C1707.0,628.7 1708.0,628.8 1709.0,628.9 C1710.0,628.9 1711.0,629.0 1712.0,629.1 C1713.0,629.1 1714.0,629.2 1715.0,629.3 C1716.0,629.4 1717.0,629.4 1718.0,629.5 C1719.0,629.6 1720.0,629.7 1721.0,629.7 C1722.0,629.8 1723.0,629.9 1724.0,630.0 C1725.0,630.0 1726.0,630.1 1727.0,630.2 C1728.0,630.3 1729.0,630.3 1730.0,630.4 C1731.0,630.5 1732.0,630.6 1733.0,630.6 C1734.0,630.7 1735.0,630.8 1736.0,630.8 C1737.0,630.9 1738.0,631.0 1739.0,631.1 C1740.0,631.1 1741.0,631.2 1742.0,631.3 C1743.0,631.4 1744.0,631.4 1745.0,631.5 C1746.0,631.6 1747.0,631.7 1748.0,631.7 C1749.0,631.8 1750.0,631.9 1751.0,632.0 C1752.0,632.0 1753.0,632.1 1754.0,632.2 C1755.0,632.2 1756.0,632.3 1757.0,632.4 C1758.0,632.5 1759.0,632.5 1760.0,632.6 C1761.0,632.7 1762.0,632.8 1763.0,632.8 C1764.0,632.9 1765.0,633.0 1766.0,633.1 C1767.0,633.1 1768.0,633.2 1769.0,633.3 C1770.0,633.4 1771.0,633.5 1772.0,633.5 C1773.0,633.6 1774.0,633.7 1775.0,633.8 C1776.0,633.8 1777.0,633.9 1778.0,634.0 C1779.0,634.1 1780.0,634.1 1781.0,634.2 C1782.0,634.3 1783.0,634.4 1784.0,634.5 C1785.0,634.5 1786.0,634.6 1787.0,634.7 C1788.0,634.8 1789.0,634.9 1790.0,634.9 C1791.0,635.0 1792.0,635.1 1793.0,635.2 C1794.0,635.3 1795.0,635.3 1796.0,635.4 C1797.0,635.5 1798.0,635.6 1799.0,635.7 C1800.0,635.8 1801.0,635.8 1802.0,635.9 C1803.0,636.0 1804.0,636.1 1805.0,636.2 C1806.0,636.3 1807.0,636.3 1808.0,636.4 C1809.0,636.5 1810.0,636.6 1811.0,636.7 C1812.0,636.8 1813.0,636.9 1814.0,637.0 C1815.0,637.0 1816.0,637.1 1817.0,637.2 C1818.0,637.3 1819.0,637.4 1820.0,637.5 C1821.0,637.6 1822.0,637.7 1823.0,637.8 C1824.0,637.9 1825.0,638.0 1826.0,638.1 C1827.0,638.2 1828.0,638.3 1829.0,638.4 C1830.0,638.5 1831.0,638.6 1832.0,638.7 C1833.0,638.8 1834.0,638.9 1835.0,639.0 C1836.0,639.1 1837.0,639.2 1838.0,639.3 C1839.0,639.4 1840.0,639.5 1841.0,639.6 C1842.0,639.7 1843.0,639.9 1844.0,640.0 C1845.0,640.1 1846.0,640.2 1847.0,640.3 C1848.0,640.5 1849.0,640.6 1850.0,640.7 C1851.0,640.8 1852.0,640.9 1853.0,641.1 C1854.0,641.2 1855.0,641.3 1856.0,641.5 C1857.0,641.6 1858.0,641.7 1859.0,641.9 C1860.0,642.0 1861.0,642.1 1862.0,642.3 C1863.0,642.4 1864.0,642.6 1865.0,642.7 C1866.0,642.9 1867.0,643.0 1868.0,643.2 C1869.0,643.3 1870.0,643.5 1871.0,643.6 C1872.0,643.8 1873.0,643.9 1874.0,644.1 C1875.0,644.3 1876.0,644.4 1877.0,644.6 C1878.0,644.8 1879.0,644.9 1880.0,645.1 C1881.0,645.3 1882.0,645.5 1883.0,645.7 C1884.0,645.8 1885.0,646.0 1886.0,646.2 C1887.0,646.4 1888.0,646.6 1889.0,646.8 C1890.0,647.0 1891.0,647.2 1892.0,647.4 C1893.0,647.6 1894.0,647.8 1895.0,648.0 C1896.0,648.2 1897.0,648.4 1898.0,648.6 C1899.0,648.8 1900.0,649.0 1901.0,649.3 C1902.0,649.5 1903.0,649.7 1904.0,649.9 C1905.0,650.2 1906.0,650.4 1907.0,650.6 C1908.0,650.9 1909.0,651.1 1910.0,651.3 C1911.0,651.6 1912.0,651.8 1913.0,652.1 C1914.0,652.3 1915.0,652.6 1916.0,652.9 C1917.0,653.1 1918.0,653.4 1919.0,653.6 C1920.0,653.9 1921.0,654.2 1922.0,654.5 C1923.0,654.7 1924.0,655.0 1925.0,655.3 C1926.0,655.6 1927.0,655.9 1928.0,656.2 C1929.0,656.5 1930.0,656.8 1931.0,657.1 C1932.0,657.4 1933.0,657.7 1934.0,658.0 C1935.0,658.3 1936.0,658.6 1937.0,658.9 C1938.0,659.2 1939.0,659.6 1940.0,659.9 C1941.0,660.2 1942.0,660.5 1943.0,660.9 C1944.0,661.2 1945.0,661.5 1946.0,661.9 C1947.0,662.2 1948.0,662.5 1949.0,662.9 C1950.0,663.2 1951.0,663.6 1952.0,663.9 C1953.0,664.2 1954.0,664.6 1955.0,664.9 C1956.0,665.3 1957.0,665.6 1958.0,666.0 C1959.0,666.3 1960.0,666.7 1961.0,667.0 C1962.0,667.4 1963.0,667.7 1964.0,668.1 C1965.0,668.5 1966.0,668.8 1967.0,669.2 C1968.0,669.5 1969.0,669.9 1970.0,670.2 C1971.0,670.6 1972.0,670.9 1973.0,671.3 C1974.0,671.7 1975.0,672.0 1976.0,672.4 C1977.0,672.7 1978.0,673.1 1979.0,673.4 C1980.0,673.8 1981.0,674.2 1982.0,674.5 C1983.0,674.9 1984.0,675.2 1985.0,675.6 C1986.0,675.9 1987.0,676.3 1988.0,676.6 C1989.0,677.0 1990.0,677.3 1991.0,677.7 C1992.0,678.0 1993.0,678.4 1994.0,678.7 C1995.0,679.0 1996.0,679.4 1997.0,679.7 C1998.0,680.1 1999.2,680.5 2000.0,680.7 C2000.5,680.9 2000.9,681.0 2001.3,681.2" fill="none" stroke="#FF0000" stroke-width="9.6" stroke-linejoin="round" stroke-linecap="butt"/>
<path d="M311.0,108.0 C311.4,103.7 311.6,98.8 312.3,95.0 C312.8,92.0 313.2,88.6 314.3,87.0 C315.0,86.0 316.0,85.1 316.8,85.2 C317.7,85.3 318.6,86.7 319.3,88.0 C320.3,89.9 320.8,93.2 321.5,96.0 C322.3,99.1 322.6,102.9 323.7,106.0 C324.7,108.9 326.1,111.5 327.5,114.0 C328.8,116.3 330.1,118.3 331.5,120.5 C332.9,122.7 334.4,124.9 335.8,127.0 C337.2,129.0 338.6,131.0 339.9,133.0 C341.1,135.0 342.2,137.0 343.3,139.0 C344.4,140.9 345.4,142.6 346.5,144.5 C347.6,146.4 348.7,148.4 349.8,150.3 C350.9,152.2 351.8,154.1 352.9,156.0 C354.0,157.9 355.1,159.9 356.2,161.8 C357.3,163.7 358.3,165.5 359.5,167.4 C360.9,169.5 362.5,172.0 364.0,174.0 C365.4,175.8 366.6,177.3 368.1,178.9 C369.6,180.6 371.4,182.5 373.0,184.0 C374.4,185.3 375.6,186.7 377.0,187.6 C378.1,188.3 379.3,188.9 380.5,189.0 C381.7,189.1 382.9,188.8 384.0,188.3 C385.2,187.7 386.5,186.8 387.5,185.5 C388.7,184.0 389.5,181.7 390.3,179.5 C391.3,176.9 392.1,174.0 392.8,171.0 C393.6,167.8 394.2,164.4 394.8,161.0 C395.4,157.4 395.8,153.8 396.2,150.0 C396.6,146.1 396.8,142.1 397.0,138.0 C397.2,133.8 397.4,129.3 397.6,125.0 C397.9,120.7 397.9,116.0 398.5,112.0 C399.0,108.6 399.8,105.6 400.7,102.5 C401.5,99.6 402.4,96.6 403.5,94.0 C404.5,91.6 405.6,89.6 406.8,87.5 C408.0,85.4 409.2,83.3 410.5,81.5 C411.7,79.9 412.7,78.8 414.2,77.3 C416.1,75.5 418.5,73.0 421.0,71.5 C423.4,70.1 426.3,68.9 429.0,68.6 C431.6,68.3 435.0,69.0 437.0,69.5 C438.3,69.8 439.0,70.4 440.0,70.7 C441.0,71.1 442.0,71.3 443.0,71.6 C444.0,71.9 445.0,72.3 446.0,72.6 C447.0,73.0 448.0,73.3 449.0,73.7 C450.0,74.1 451.0,74.5 452.0,74.9 C453.0,75.3 454.0,75.7 455.0,76.1 C456.0,76.5 457.0,77.0 458.0,77.4 C459.0,77.8 460.0,78.3 461.0,78.7 C462.0,79.2 463.0,79.6 464.0,80.1 C465.0,80.5 466.0,81.0 467.0,81.5 C468.0,81.9 469.0,82.4 470.0,82.8 C471.0,83.3 472.0,83.7 473.0,84.2 C474.0,84.7 475.0,85.1 476.0,85.6 C477.0,86.0 478.0,86.5 479.0,86.9 C480.0,87.4 481.0,87.8 482.0,88.2 C483.0,88.7 484.0,89.1 485.0,89.5 C486.0,90.0 487.0,90.4 488.0,90.8 C489.0,91.2 490.0,91.6 491.0,92.0 C492.0,92.4 493.0,92.8 494.0,93.2 C495.0,93.6 496.0,94.0 497.0,94.3 C498.0,94.7 499.0,95.1 500.0,95.4 C501.0,95.8 502.0,96.1 503.0,96.4 C504.0,96.7 505.0,97.0 506.0,97.3 C507.0,97.6 508.0,97.9 509.0,98.2 C510.0,98.5 511.0,98.7 512.0,99.0 C513.0,99.2 514.0,99.4 515.0,99.7 C516.0,99.9 517.0,100.1 518.0,100.2 C519.0,100.4 520.0,100.6 521.0,100.7 C522.0,100.9 523.0,101.0 524.0,101.1 C525.0,101.2 526.0,101.3 527.0,101.4 C528.0,101.5 529.0,101.5 530.0,101.5 C531.0,101.6 532.0,101.6 533.0,101.6 C534.0,101.6 535.0,101.5 536.0,101.5 C537.0,101.4 538.0,101.4 539.0,101.3 C540.0,101.2 541.0,101.1 542.0,101.0 C543.0,100.9 544.0,100.8 545.0,100.7 C546.0,100.5 547.0,100.4 548.0,100.2 C549.0,100.0 550.0,99.9 551.0,99.7 C552.0,99.5 553.0,99.3 554.0,99.1 C555.0,98.9 556.0,98.7 557.0,98.4 C558.0,98.2 559.0,98.0 560.0,97.7 C561.0,97.5 562.0,97.2 563.0,97.0 C564.0,96.7 565.0,96.4 566.0,96.2 C567.0,95.9 568.0,95.6 569.0,95.3 C570.0,95.1 571.0,94.8 572.0,94.5 C573.0,94.2 574.0,93.9 575.0,93.6 C576.0,93.3 577.0,93.0 578.0,92.7 C579.0,92.4 580.0,92.1 581.0,91.8 C582.0,91.6 583.0,91.3 584.0,91.0 C585.0,90.7 586.0,90.4 587.0,90.1 C588.0,89.8 589.0,89.5 590.0,89.3 C591.0,89.0 592.0,88.7 593.0,88.4 C594.0,88.2 595.0,87.9 596.0,87.6 C597.0,87.4 598.0,87.1 599.0,86.9 C600.0,86.6 601.0,86.4 602.0,86.1 C603.0,85.9 604.0,85.7 605.0,85.4 C606.0,85.2 607.0,85.0 608.0,84.8 C609.0,84.6 610.0,84.4 611.0,84.2 C612.0,84.0 613.0,83.8 614.0,83.6 C615.0,83.4 616.0,83.3 617.0,83.1 C618.0,82.9 619.0,82.8 620.0,82.6 C621.0,82.5 622.0,82.4 623.0,82.2 C624.0,82.1 625.0,82.0 626.0,81.9 C627.0,81.8 628.0,81.7 629.0,81.6 C630.0,81.5 631.0,81.5 632.0,81.4 C633.0,81.4 634.0,81.3 635.0,81.3 C636.0,81.2 637.0,81.2 638.0,81.2 C639.0,81.2 640.0,81.2 641.0,81.2 C642.0,81.2 643.0,81.3 644.0,81.3 C645.0,81.4 646.0,81.4 647.0,81.5 C648.0,81.6 649.0,81.7 650.0,81.8 C651.0,81.9 652.0,82.0 653.0,82.1 C654.0,82.3 655.0,82.4 656.0,82.5 C657.0,82.7 658.0,82.9 659.0,83.0 C660.0,83.2 661.0,83.4 662.0,83.6 C663.0,83.8 664.0,84.0 665.0,84.2 C666.0,84.4 667.0,84.6 668.0,84.8 C669.0,85.0 670.0,85.2 671.0,85.5 C672.0,85.7 673.0,85.9 674.0,86.2 C675.0,86.4 676.0,86.7 677.0,86.9 C678.0,87.1 679.0,87.4 680.0,87.6 C681.0,87.9 682.0,88.1 683.0,88.4 C684.0,88.6 685.0,88.9 686.0,89.1 C687.0,89.4 688.0,89.6 689.0,89.8 C690.0,90.1 691.0,90.3 692.0,90.5 C693.0,90.8 694.0,91.0 695.0,91.2 C696.0,91.5 697.0,91.7 698.0,91.9 C699.0,92.1 700.0,92.3 701.0,92.5 C702.0,92.7 703.0,92.9 704.0,93.1 C705.0,93.3 706.0,93.4 707.0,93.6 C708.0,93.8 709.0,93.9 710.0,94.1 C711.0,94.2 712.0,94.3 713.0,94.4 C714.0,94.6 715.0,94.7 716.0,94.8 C717.0,94.9 718.0,94.9 719.0,95.0 C720.0,95.1 721.0,95.1 722.0,95.1 C723.0,95.2 724.0,95.2 725.0,95.2 C726.0,95.2 727.0,95.2 728.0,95.2 C729.0,95.1 730.0,95.1 731.0,95.0 C732.0,95.0 733.0,94.9 734.0,94.9 C735.0,94.8 736.0,94.7 737.0,94.6 C738.0,94.5 739.0,94.4 740.0,94.3 C741.0,94.2 742.0,94.0 743.0,93.9 C744.0,93.8 745.0,93.6 746.0,93.5 C747.0,93.3 748.0,93.2 749.0,93.0 C750.0,92.8 751.0,92.7 752.0,92.5 C753.0,92.3 754.0,92.1 755.0,91.9 C756.0,91.7 757.0,91.5 758.0,91.3 C759.0,91.1 760.0,90.9 761.0,90.7 C762.0,90.5 763.0,90.3 764.0,90.1 C765.0,89.9 766.0,89.6 767.0,89.4 C768.0,89.2 769.0,89.0 770.0,88.8 C771.0,88.5 772.0,88.3 773.0,88.1 C774.0,87.9 775.0,87.6 776.0,87.4 C777.0,87.2 778.0,87.0 779.0,86.7 C780.0,86.5 781.0,86.3 782.0,86.1 C783.0,85.9 784.0,85.6 785.0,85.4 C786.0,85.2 787.0,85.0 788.0,84.8 C789.0,84.6 790.0,84.4 791.0,84.2 C792.0,83.9 793.0,83.7 794.0,83.5 C795.0,83.3 796.0,83.1 797.0,82.9 C798.0,82.7 799.0,82.5 800.0,82.3 C801.0,82.1 802.0,81.9 803.0,81.7 C804.0,81.5 805.0,81.3 806.0,81.1 C807.0,80.9 808.0,80.7 809.0,80.6 C810.0,80.4 811.0,80.2 812.0,80.0 C813.0,79.8 814.0,79.6 815.0,79.4 C816.0,79.3 817.0,79.1 818.0,78.9 C819.0,78.7 820.0,78.5 821.0,78.4 C822.0,78.2 823.0,78.0 824.0,77.8 C825.0,77.6 826.0,77.5 827.0,77.3 C828.0,77.1 829.0,77.0 830.0,76.8 C831.0,76.6 832.0,76.5 833.0,76.3 C834.0,76.1 835.0,76.0 836.0,75.8 C837.0,75.6 838.0,75.5 839.0,75.3 C840.0,75.2 841.0,75.0 842.0,74.9 C843.0,74.7 844.0,74.5 845.0,74.4 C846.0,74.2 847.0,74.1 848.0,73.9 C849.0,73.8 850.0,73.7 851.0,73.5 C852.0,73.4 853.0,73.2 854.0,73.1 C855.0,72.9 856.0,72.8 857.0,72.7 C858.0,72.5 859.0,72.4 860.0,72.2 C861.0,72.1 862.0,72.0 863.0,71.8 C864.0,71.7 865.0,71.6 866.0,71.5 C867.0,71.3 868.0,71.2 869.0,71.1 C870.0,71.0 871.0,70.8 872.0,70.7 C873.0,70.6 874.0,70.5 875.0,70.3 C876.0,70.2 877.0,70.1 878.0,70.0 C879.0,69.9 880.0,69.8 881.0,69.7 C882.0,69.5 883.0,69.4 884.0,69.3 C885.0,69.2 886.0,69.1 887.0,69.0 C888.0,68.9 889.0,68.8 890.0,68.7 C891.0,68.6 892.0,68.5 893.0,68.4 C894.0,68.3 895.0,68.2 896.0,68.1 C897.0,68.0 898.0,67.9 899.0,67.8 C900.0,67.7 901.0,67.7 902.0,67.6 C903.0,67.5 904.0,67.4 905.0,67.3 C906.0,67.2 907.0,67.1 908.0,67.1 C909.0,67.0 910.0,66.9 911.0,66.8 C912.0,66.7 913.0,66.7 914.0,66.6 C915.0,66.5 916.0,66.5 917.0,66.4 C918.0,66.3 919.0,66.2 920.0,66.2 C921.0,66.1 922.0,66.0 923.0,66.0 C924.0,65.9 925.0,65.9 926.0,65.8 C927.0,65.7 928.0,65.7 929.0,65.6 C930.0,65.6 931.0,65.5 932.0,65.5 C933.0,65.4 934.0,65.4 935.0,65.3 C936.0,65.3 937.0,65.2 938.0,65.2 C939.0,65.1 940.0,65.1 941.0,65.0 C942.0,65.0 943.0,64.9 944.0,64.9 C945.0,64.9 946.0,64.8 947.0,64.8 C948.0,64.8 949.0,64.7 950.0,64.7 C951.0,64.7 952.0,64.6 953.0,64.6 C954.0,64.6 955.0,64.6 956.0,64.5 C957.0,64.5 958.0,64.5 959.0,64.5 C960.0,64.4 961.0,64.4 962.0,64.4 C963.0,64.4 964.0,64.4 965.0,64.4 C966.0,64.3 967.0,64.3 968.0,64.3 C969.0,64.3 970.0,64.3 971.0,64.3 C972.0,64.3 973.0,64.3 974.0,64.3 C975.0,64.3 976.0,64.3 977.0,64.3 C978.0,64.3 979.0,64.3 980.0,64.3 C981.0,64.3 982.0,64.3 983.0,64.3 C984.0,64.3 985.0,64.3 986.0,64.3 C987.0,64.4 988.0,64.4 989.0,64.4 C990.0,64.4 991.0,64.4 992.0,64.4 C993.0,64.5 994.0,64.5 995.0,64.5 C996.0,64.5 997.0,64.6 998.0,64.6 C999.0,64.6 1000.0,64.6 1001.0,64.7 C1002.0,64.7 1003.0,64.7 1004.0,64.8 C1005.0,64.8 1006.0,64.8 1007.0,64.9 C1008.0,64.9 1009.0,64.9 1010.0,65.0 C1011.0,65.0 1012.0,65.1 1013.0,65.1 C1014.0,65.2 1015.0,65.2 1016.0,65.3 C1017.0,65.3 1018.0,65.4 1019.0,65.4 C1020.0,65.5 1021.0,65.5 1022.0,65.6 C1023.0,65.6 1024.0,65.7 1025.0,65.8 C1026.0,65.8 1027.0,65.9 1028.0,65.9 C1029.0,66.0 1030.0,66.1 1031.0,66.1 C1032.0,66.2 1033.0,66.3 1034.0,66.4 C1035.0,66.4 1036.0,66.5 1037.0,66.6 C1038.0,66.6 1039.0,66.7 1040.0,66.8 C1041.0,66.9 1042.0,67.0 1043.0,67.0 C1044.0,67.1 1045.0,67.2 1046.0,67.3 C1047.0,67.4 1048.0,67.5 1049.0,67.6 C1050.0,67.7 1051.0,67.8 1052.0,67.8 C1053.0,67.9 1054.0,68.0 1055.0,68.1 C1056.0,68.2 1057.0,68.3 1058.0,68.4 C1059.0,68.5 1060.0,68.6 1061.0,68.7 C1062.0,68.9 1063.0,69.0 1064.0,69.1 C1065.0,69.2 1066.0,69.3 1067.0,69.4 C1068.0,69.5 1069.0,69.6 1070.0,69.7 C1071.0,69.9 1072.0,70.0 1073.0,70.1 C1074.0,70.2 1075.0,70.4 1076.0,70.5 C1077.0,70.6 1078.0,70.7 1079.0,70.9 C1080.0,71.0 1081.0,71.1 1082.0,71.2 C1083.0,71.4 1084.0,71.5 1085.0,71.6 C1086.0,71.8 1087.0,71.9 1088.0,72.1 C1089.0,72.2 1090.0,72.3 1091.0,72.5 C1092.0,72.6 1093.0,72.8 1094.0,72.9 C1095.0,73.1 1096.0,73.2 1097.0,73.4 C1098.0,73.5 1099.0,73.7 1100.0,73.8 C1101.0,74.0 1102.0,74.1 1103.0,74.3 C1104.0,74.5 1105.0,74.6 1106.0,74.8 C1107.0,75.0 1108.0,75.1 1109.0,75.3 C1110.0,75.5 1111.0,75.6 1112.0,75.8 C1113.0,76.0 1114.0,76.1 1115.0,76.3 C1116.0,76.5 1117.0,76.7 1118.0,76.8 C1119.0,77.0 1120.0,77.2 1121.0,77.4 C1122.0,77.6 1123.0,77.8 1124.0,77.9 C1125.0,78.1 1126.0,78.3 1127.0,78.5 C1128.0,78.7 1129.0,78.9 1130.0,79.1 C1131.0,79.3 1132.0,79.5 1133.0,79.7 C1134.0,79.9 1135.0,80.1 1136.0,80.3 C1137.0,80.5 1138.0,80.7 1139.0,80.9 C1140.0,81.1 1141.0,81.3 1142.0,81.5 C1143.0,81.7 1144.0,81.9 1145.0,82.1 C1146.0,82.3 1147.0,82.6 1148.0,82.8 C1149.0,83.0 1150.0,83.2 1151.0,83.4 C1152.0,83.7 1153.0,83.9 1154.0,84.1 C1155.0,84.3 1156.0,84.6 1157.0,84.8 C1158.0,85.0 1159.0,85.3 1160.0,85.5 C1161.0,85.7 1162.0,86.0 1163.0,86.2 C1164.0,86.4 1165.0,86.7 1166.0,86.9 C1167.0,87.1 1168.0,87.4 1169.0,87.6 C1170.0,87.9 1171.0,88.1 1172.0,88.4 C1173.0,88.6 1174.0,88.9 1175.0,89.1 C1176.0,89.4 1177.0,89.6 1178.0,89.9 C1179.0,90.1 1180.0,90.4 1181.0,90.7 C1182.0,90.9 1183.0,91.2 1184.0,91.5 C1185.0,91.7 1186.0,92.0 1187.0,92.3 C1188.0,92.5 1189.0,92.8 1190.0,93.1 C1191.0,93.3 1192.0,93.6 1193.0,93.9 C1194.0,94.2 1195.0,94.4 1196.0,94.7 C1197.0,95.0 1198.0,95.3 1199.0,95.6 C1200.0,95.9 1201.0,96.1 1202.0,96.4 C1203.0,96.7 1204.0,97.0 1205.0,97.3 C1206.0,97.6 1207.0,97.9 1208.0,98.2 C1209.0,98.5 1210.0,98.8 1211.0,99.1 C1212.0,99.4 1213.0,99.7 1214.0,100.0 C1215.0,100.3 1216.0,100.6 1217.0,100.9 C1218.0,101.2 1219.0,101.5 1220.0,101.8 C1221.0,102.1 1222.0,102.5 1223.0,102.8 C1224.0,103.1 1225.0,103.4 1226.0,103.7 C1227.0,104.1 1228.0,104.4 1229.0,104.7 C1230.0,105.0 1231.0,105.4 1232.0,105.7 C1233.0,106.0 1234.0,106.3 1235.0,106.7 C1236.0,107.0 1237.0,107.3 1238.0,107.7 C1239.0,108.0 1240.0,108.3 1241.0,108.7 C1242.0,109.0 1243.0,109.4 1244.0,109.7 C1245.0,110.1 1246.0,110.4 1247.0,110.8 C1248.0,111.1 1249.0,111.5 1250.0,111.8 C1251.0,112.2 1252.0,112.5 1253.0,112.9 C1254.0,113.2 1255.0,113.6 1256.0,113.9 C1257.0,114.3 1258.0,114.7 1259.0,115.0 C1260.0,115.4 1261.0,115.8 1262.0,116.1 C1263.0,116.5 1264.0,116.9 1265.0,117.2 C1266.0,117.6 1267.0,118.0 1268.0,118.4 C1269.0,118.7 1270.0,119.1 1271.0,119.5 C1272.0,119.9 1273.0,120.3 1274.0,120.7 C1275.0,121.0 1276.0,121.4 1277.0,121.8 C1278.0,122.2 1279.0,122.6 1280.0,123.0 C1281.0,123.4 1282.0,123.8 1283.0,124.2 C1284.0,124.6 1285.0,125.0 1286.0,125.4 C1287.0,125.8 1288.0,126.2 1289.0,126.6 C1290.0,127.0 1291.0,127.4 1292.0,127.8 C1293.0,128.2 1294.0,128.6 1295.0,129.1 C1296.0,129.5 1297.0,129.9 1298.0,130.3 C1299.0,130.7 1300.0,131.2 1301.0,131.6 C1302.0,132.0 1303.0,132.4 1304.0,132.9 C1305.0,133.3 1306.0,133.7 1307.0,134.1 C1308.0,134.6 1309.0,135.0 1310.0,135.5 C1311.0,135.9 1312.0,136.3 1313.0,136.8 C1314.0,137.2 1315.0,137.7 1316.0,138.1 C1317.0,138.5 1318.0,139.0 1319.0,139.4 C1320.0,139.9 1321.0,140.3 1322.0,140.8 C1323.0,141.3 1324.0,141.7 1325.0,142.2 C1326.0,142.6 1327.0,143.1 1328.0,143.6 C1329.0,144.0 1330.0,144.5 1331.0,144.9 C1332.0,145.4 1333.0,145.9 1334.0,146.4 C1335.0,146.8 1336.0,147.3 1337.0,147.8 C1338.0,148.3 1339.0,148.7 1340.0,149.2 C1341.0,149.7 1342.0,150.2 1343.0,150.7 C1344.0,151.2 1345.0,151.6 1346.0,152.1 C1347.0,152.6 1348.0,153.1 1349.0,153.6 C1350.0,154.1 1351.0,154.6 1352.0,155.1 C1353.0,155.6 1354.0,156.1 1355.0,156.6 C1356.0,157.1 1357.0,157.6 1358.0,158.1 C1359.0,158.6 1360.0,159.2 1361.0,159.7 C1362.0,160.2 1363.0,160.7 1364.0,161.2 C1365.0,161.7 1366.0,162.3 1367.0,162.8 C1368.0,163.3 1369.0,163.8 1370.0,164.4 C1371.0,164.9 1372.0,165.4 1373.0,166.0 C1374.0,166.5 1375.0,167.0 1376.0,167.6 C1377.0,168.1 1378.0,168.6 1379.0,169.2 C1380.0,169.7 1381.0,170.3 1382.0,170.8 C1383.0,171.4 1384.0,171.9 1385.0,172.5 C1386.0,173.0 1387.0,173.6 1388.0,174.1 C1389.0,174.7 1390.0,175.2 1391.0,175.8 C1392.0,176.3 1393.0,176.9 1394.0,177.5 C1395.0,178.0 1396.0,178.6 1397.0,179.2 C1398.0,179.7 1399.0,180.3 1400.0,180.9 C1401.0,181.4 1402.0,182.0 1403.0,182.6 C1404.0,183.1 1405.0,183.7 1406.0,184.3 C1407.0,184.9 1408.0,185.5 1409.0,186.0 C1410.0,186.6 1411.0,187.2 1412.0,187.8 C1413.0,188.4 1414.0,188.9 1415.0,189.5 C1416.0,190.1 1417.0,190.7 1418.0,191.3 C1419.0,191.9 1420.0,192.5 1421.0,193.1 C1422.0,193.6 1423.0,194.2 1424.0,194.8 C1425.0,195.4 1426.0,196.0 1427.0,196.6 C1428.0,197.2 1429.0,197.8 1430.0,198.4 C1431.0,199.0 1432.0,199.6 1433.0,200.2 C1434.0,200.8 1435.0,201.4 1436.0,202.0 C1437.0,202.6 1438.0,203.2 1439.0,203.8 C1440.0,204.4 1441.0,205.0 1442.0,205.6 C1443.0,206.2 1444.0,206.8 1445.0,207.4 C1446.0,208.1 1447.0,208.7 1448.0,209.3 C1449.0,209.9 1450.0,210.5 1451.0,211.1 C1452.0,211.7 1453.0,212.3 1454.0,212.9 C1455.0,213.5 1456.0,214.2 1457.0,214.8 C1458.0,215.4 1459.0,216.0 1460.0,216.6 C1461.0,217.2 1462.0,217.8 1463.0,218.5 C1464.0,219.1 1465.0,219.7 1466.0,220.3 C1467.0,220.9 1468.0,221.5 1469.0,222.2 C1470.0,222.8 1471.0,223.4 1472.0,224.0 C1473.0,224.6 1474.0,225.2 1475.0,225.9 C1476.0,226.5 1477.0,227.1 1478.0,227.7 C1479.0,228.3 1480.0,228.9 1481.0,229.6 C1482.0,230.2 1483.0,230.8 1484.0,231.4 C1485.0,232.0 1486.0,232.6 1487.0,233.3 C1488.0,233.9 1489.0,234.5 1490.0,235.1 C1491.0,235.7 1492.0,236.4 1493.0,237.0 C1494.0,237.6 1495.0,238.2 1496.0,238.8 C1497.0,239.4 1498.0,240.1 1499.0,240.7 C1500.0,241.3 1501.0,241.9 1502.0,242.5 C1503.0,243.1 1504.0,243.7 1505.0,244.4 C1506.0,245.0 1507.0,245.6 1508.0,246.2 C1509.0,246.8 1510.0,247.4 1511.0,248.1 C1512.0,248.7 1513.0,249.3 1514.0,249.9 C1515.0,250.5 1516.0,251.1 1517.0,251.7 C1518.0,252.4 1519.0,253.0 1520.0,253.6 C1521.0,254.2 1522.0,254.8 1523.0,255.4 C1524.0,256.0 1525.0,256.7 1526.0,257.3 C1527.0,257.9 1528.0,258.5 1529.0,259.1 C1530.0,259.7 1531.0,260.3 1532.0,260.9 C1533.0,261.6 1534.0,262.2 1535.0,262.8 C1536.0,263.4 1537.0,264.0 1538.0,264.6 C1539.0,265.2 1540.0,265.8 1541.0,266.4 C1542.0,267.1 1543.0,267.7 1544.0,268.3 C1545.0,268.9 1546.0,269.5 1547.0,270.1 C1548.0,270.7 1549.0,271.3 1550.0,271.9 C1551.0,272.5 1552.0,273.1 1553.0,273.8 C1554.0,274.4 1555.0,275.0 1556.0,275.6 C1557.0,276.2 1558.0,276.8 1559.0,277.4 C1560.0,278.0 1561.0,278.6 1562.0,279.2 C1563.0,279.8 1564.0,280.4 1565.0,281.0 C1566.0,281.6 1567.0,282.2 1568.0,282.9 C1569.0,283.5 1570.0,284.1 1571.0,284.7 C1572.0,285.3 1573.0,285.9 1574.0,286.5 C1575.0,287.1 1576.0,287.7 1577.0,288.3 C1578.0,288.9 1579.0,289.5 1580.0,290.1 C1581.0,290.7 1582.0,291.3 1583.0,291.9 C1584.0,292.5 1585.0,293.1 1586.0,293.7 C1587.0,294.3 1588.0,294.9 1589.0,295.5 C1590.0,296.1 1591.0,296.7 1592.0,297.3 C1593.0,297.9 1594.0,298.5 1595.0,299.1 C1596.0,299.7 1597.0,300.3 1598.0,300.9 C1599.0,301.5 1600.0,302.1 1601.0,302.7 C1602.0,303.3 1603.0,303.9 1604.0,304.5 C1605.0,305.1 1606.0,305.7 1607.0,306.3 C1608.0,306.9 1609.0,307.5 1610.0,308.1 C1611.0,308.7 1612.0,309.3 1613.0,309.9 C1614.0,310.4 1615.0,311.0 1616.0,311.6 C1617.0,312.2 1618.0,312.8 1619.0,313.4 C1620.0,314.0 1621.0,314.6 1622.0,315.2 C1623.0,315.8 1624.0,316.4 1625.0,317.0 C1626.0,317.6 1627.0,318.1 1628.0,318.7 C1629.0,319.3 1630.0,319.9 1631.0,320.5 C1632.0,321.1 1633.0,321.7 1634.0,322.3 C1635.0,322.9 1636.0,323.4 1637.0,324.0 C1638.0,324.6 1639.0,325.2 1640.0,325.8 C1641.0,326.4 1642.0,327.0 1643.0,327.6 C1644.0,328.1 1645.0,328.7 1646.0,329.3 C1647.0,329.9 1648.0,330.5 1649.0,331.1 C1650.0,331.6 1651.0,332.2 1652.0,332.8 C1653.0,333.4 1654.0,334.0 1655.0,334.6 C1656.0,335.1 1657.0,335.7 1658.0,336.3 C1659.0,336.9 1660.0,337.5 1661.0,338.0 C1662.0,338.6 1663.0,339.2 1664.0,339.8 C1665.0,340.4 1666.0,340.9 1667.0,341.5 C1668.0,342.1 1669.0,342.7 1670.0,343.2 C1671.0,343.8 1672.0,344.4 1673.0,345.0 C1674.0,345.5 1675.0,346.1 1676.0,346.7 C1677.0,347.3 1678.0,347.8 1679.0,348.4 C1680.0,349.0 1681.0,349.6 1682.0,350.1 C1683.0,350.7 1684.0,351.3 1685.0,351.8 C1686.0,352.4 1687.0,353.0 1688.0,353.5 C1689.0,354.1 1690.0,354.7 1691.0,355.3 C1692.0,355.8 1693.0,356.4 1694.0,357.0 C1695.0,357.5 1696.0,358.1 1697.0,358.7 C1698.0,359.2 1699.0,359.8 1700.0,360.4 C1701.0,360.9 1702.0,361.5 1703.0,362.0 C1704.0,362.6 1705.0,363.2 1706.0,363.7 C1707.0,364.3 1708.0,364.9 1709.0,365.4 C1710.0,366.0 1711.0,366.5 1712.0,367.1 C1713.0,367.7 1714.0,368.2 1715.0,368.8 C1716.0,369.3 1717.0,369.9 1718.0,370.5 C1719.0,371.0 1720.0,371.6 1721.0,372.1 C1722.0,372.7 1723.0,373.2 1724.0,373.8 C1725.0,374.3 1726.0,374.9 1727.0,375.5 C1728.0,376.0 1729.0,376.6 1730.0,377.1 C1731.0,377.7 1732.0,378.2 1733.0,378.8 C1734.0,379.3 1735.0,379.9 1736.0,380.4 C1737.0,381.0 1738.0,381.5 1739.0,382.1 C1740.0,382.6 1741.0,383.2 1742.0,383.7 C1743.0,384.2 1744.0,384.8 1745.0,385.3 C1746.0,385.9 1747.0,386.4 1748.0,387.0 C1749.0,387.5 1750.0,388.1 1751.0,388.6 C1752.0,389.1 1753.0,389.7 1754.0,390.2 C1755.0,390.8 1756.0,391.3 1757.0,391.8 C1758.0,392.4 1759.0,392.9 1760.0,393.5 C1761.0,394.0 1762.0,394.5 1763.0,395.1 C1764.0,395.6 1765.0,396.1 1766.0,396.7 C1767.0,397.2 1768.0,397.8 1769.0,398.3 C1770.0,398.8 1771.0,399.4 1772.0,399.9 C1773.0,400.4 1774.0,400.9 1775.0,401.5 C1776.0,402.0 1777.0,402.5 1778.0,403.1 C1779.0,403.6 1780.0,404.1 1781.0,404.7 C1782.0,405.2 1783.0,405.7 1784.0,406.2 C1785.0,406.8 1786.0,407.3 1787.0,407.8 C1788.0,408.3 1789.0,408.9 1790.0,409.4 C1791.0,409.9 1792.0,410.4 1793.0,410.9 C1794.0,411.5 1795.0,412.0 1796.0,412.5 C1797.0,413.0 1798.0,413.6 1799.0,414.1 C1800.0,414.6 1801.0,415.1 1802.0,415.6 C1803.0,416.1 1804.0,416.7 1805.0,417.2 C1806.0,417.7 1807.0,418.2 1808.0,418.7 C1809.0,419.2 1810.0,419.7 1811.0,420.3 C1812.0,420.8 1813.0,421.3 1814.0,421.8 C1815.0,422.3 1816.0,422.8 1817.0,423.3 C1818.0,423.8 1819.0,424.3 1820.0,424.8 C1821.0,425.4 1822.0,425.9 1823.0,426.4 C1824.0,426.9 1825.0,427.4 1826.0,427.9 C1827.0,428.4 1828.0,428.9 1829.0,429.4 C1830.0,429.9 1831.0,430.4 1832.0,430.9 C1833.0,431.4 1834.0,431.9 1835.0,432.4 C1836.0,432.9 1837.0,433.4 1838.0,433.9 C1839.0,434.4 1840.0,434.9 1841.0,435.4 C1842.0,435.9 1843.0,436.4 1844.0,436.9 C1845.0,437.4 1846.0,437.9 1847.0,438.4 C1848.0,438.9 1849.0,439.4 1850.0,439.8 C1851.0,440.3 1852.0,440.8 1853.0,441.3 C1854.0,441.8 1855.0,442.3 1856.0,442.8 C1857.0,443.3 1858.0,443.8 1859.0,444.3 C1860.0,444.7 1861.0,445.2 1862.0,445.7 C1863.0,446.2 1864.0,446.7 1865.0,447.2 C1866.0,447.7 1867.0,448.1 1868.0,448.6 C1869.0,449.1 1870.0,449.6 1871.0,450.1 C1872.0,450.5 1873.0,451.0 1874.0,451.5 C1875.0,452.0 1876.0,452.5 1877.0,452.9 C1878.0,453.4 1879.0,453.9 1880.0,454.4 C1881.0,454.8 1882.0,455.3 1883.0,455.8 C1884.0,456.3 1885.0,456.7 1886.0,457.2 C1887.0,457.7 1888.0,458.2 1889.0,458.6 C1890.0,459.1 1891.0,459.6 1892.0,460.0 C1893.0,460.5 1894.0,461.0 1895.0,461.4 C1896.0,461.9 1897.0,462.4 1898.0,462.8 C1899.0,463.3 1900.0,463.8 1901.0,464.2 C1902.0,464.7 1903.0,465.2 1904.0,465.6 C1905.0,466.1 1906.0,466.6 1907.0,467.0 C1908.0,467.5 1909.0,467.9 1910.0,468.4 C1911.0,468.9 1912.0,469.3 1913.0,469.8 C1914.0,470.2 1915.0,470.7 1916.0,471.1 C1917.0,471.6 1918.0,472.1 1919.0,472.5 C1920.0,473.0 1921.0,473.4 1922.0,473.9 C1923.0,474.3 1924.0,474.8 1925.0,475.2 C1926.0,475.7 1927.0,476.1 1928.0,476.6 C1929.0,477.0 1930.0,477.5 1931.0,477.9 C1932.0,478.4 1933.0,478.8 1934.0,479.3 C1935.0,479.7 1936.0,480.2 1937.0,480.6 C1938.0,481.0 1939.0,481.5 1940.0,481.9 C1941.0,482.4 1942.0,482.8 1943.0,483.3 C1944.0,483.7 1945.0,484.1 1946.0,484.6 C1947.0,485.0 1948.0,485.4 1949.0,485.9 C1950.0,486.3 1951.0,486.8 1952.0,487.2 C1953.0,487.6 1954.0,488.1 1955.0,488.5 C1956.0,488.9 1957.0,489.4 1958.0,489.8 C1959.0,490.2 1960.0,490.7 1961.0,491.1 C1962.0,491.5 1963.0,491.9 1964.0,492.4 C1965.0,492.8 1966.0,493.2 1967.0,493.7 C1968.0,494.1 1969.0,494.5 1970.0,494.9 C1971.0,495.4 1972.0,495.8 1973.0,496.2 C1974.0,496.6 1975.0,497.1 1976.0,497.5 C1977.0,497.9 1978.0,498.3 1979.0,498.7 C1980.0,499.2 1981.0,499.6 1982.0,500.0 C1983.0,500.4 1984.0,500.8 1985.0,501.2 C1986.0,501.7 1987.0,502.1 1988.0,502.5 C1989.0,502.9 1990.0,503.3 1991.0,503.7 C1992.0,504.1 1993.0,504.6 1994.0,505.0 C1995.0,505.4 1996.0,505.8 1997.0,506.2 C1998.0,506.6 1999.2,507.1 2000.0,507.4 C2000.5,507.6 2000.9,507.8 2001.3,507.9" fill="none" stroke="#00FF00" stroke-width="9.2" stroke-linejoin="round" stroke-linecap="butt"/>
<text x="1125.8" y="1531.5" text-anchor="middle" font-size="83" class="t">Wavelength (nm)</text>
<text x="0" y="0" transform="translate(78.5,661.8) rotate(-90)" text-anchor="middle" font-size="83" class="t">Absorption</text>
<rect x="1416.5" y="786.5" width="345.3" height="346.7" fill="#fff" stroke="#909090" stroke-width="2.6"/>
<line x1="1438" y1="850.0" x2="1569" y2="850.0" stroke="#0000FF" stroke-width="8.6" stroke-linecap="round"/>
<text x="0" y="0" transform="translate(1583.5,873.5) scale(0.945,1)" font-size="69" class="t">Case4</text>
<line x1="1438" y1="931.4" x2="1569" y2="931.4" stroke="#000000" stroke-width="8.6" stroke-linecap="round"/>
<text x="0" y="0" transform="translate(1583.5,954.9) scale(0.945,1)" font-size="69" class="t">Case5</text>
<line x1="1438" y1="1012.8" x2="1569" y2="1012.8" stroke="#FF0000" stroke-width="8.6" stroke-linecap="round"/>
<text x="0" y="0" transform="translate(1583.5,1036.3) scale(0.945,1)" font-size="69" class="t">Case6</text>
<line x1="1438" y1="1094.2" x2="1569" y2="1094.2" stroke="#00FF00" stroke-width="8.6" stroke-linecap="round"/>
<text x="0" y="0" transform="translate(1583.5,1117.7) scale(0.945,1)" font-size="69" class="t">Case7</text>
</svg>
</body></html>
